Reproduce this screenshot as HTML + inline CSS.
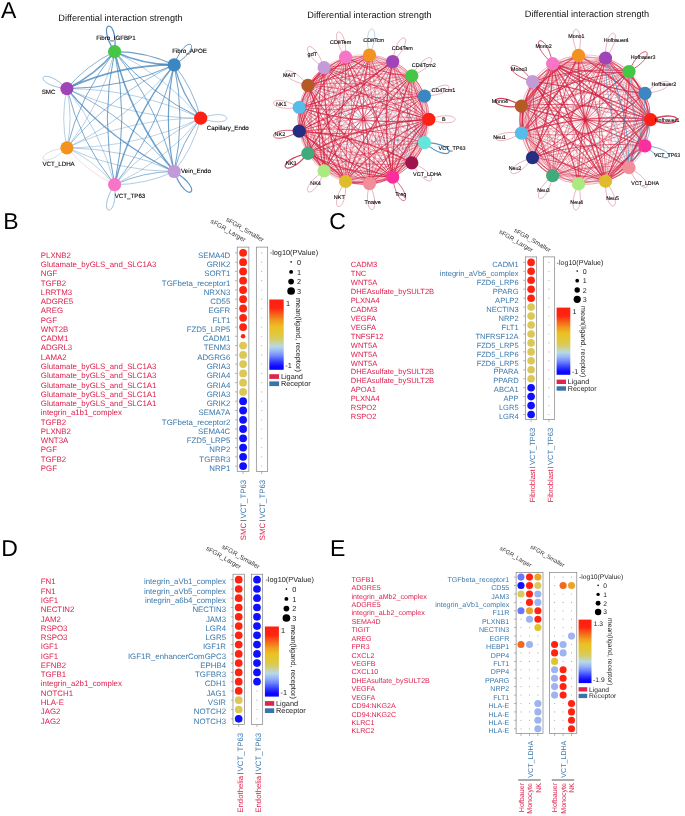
<!DOCTYPE html>
<html lang="en"><head><meta charset="utf-8"><title>Figure</title>
<style>html,body{margin:0;padding:0;background:#fff}svg{display:block;text-rendering:geometricPrecision}</style></head><body>
<svg width="685" height="816" viewBox="0 0 685 816">
<defs>
<linearGradient id="cg" x1="0" y1="0" x2="0" y2="1"><stop offset="0" stop-color="#ff2010"/><stop offset="0.12" stop-color="#ff2410"/><stop offset="0.22" stop-color="#f5681a"/><stop offset="0.3" stop-color="#f09a1e"/><stop offset="0.385" stop-color="#ecc022"/><stop offset="0.5" stop-color="#e0c840"/><stop offset="0.57" stop-color="#d6cc6c"/><stop offset="0.665" stop-color="#b8dae6"/><stop offset="0.735" stop-color="#98b6f6"/><stop offset="0.8" stop-color="#7088fc"/><stop offset="0.89" stop-color="#3038ff"/><stop offset="0.95" stop-color="#1008ff"/><stop offset="1" stop-color="#0a05ff"/></linearGradient>
</defs>
<rect width="685" height="816" fill="#fff"/>
<g font-family='"Liberation Sans", Arial, sans-serif' font-size="23" fill="#000">
<text x="1.0" y="17.8">A</text>
<text x="3.3" y="228.9">B</text>
<text x="329.3" y="229.0">C</text>
<text x="1.3" y="555.7">D</text>
<text x="330.0" y="555.7">E</text>
</g>
<g fill="none" stroke-linecap="round">
<path d="M66.9 147.8Q86.7 171.5 114.6 184.7" stroke="#d2203f" stroke-opacity="0.75" stroke-width="0.22"/>
<path d="M200.7 118.2Q130.5 118.3 66.9 147.8" stroke="#3f82ba" stroke-opacity="0.75" stroke-width="0.45"/>
<path d="M66.9 147.8Q137.0 147.7 200.7 118.2" stroke="#3f82ba" stroke-opacity="0.75" stroke-width="0.45"/>
<path d="M114.6 184.7Q94.8 161.0 66.9 147.8" stroke="#3f82ba" stroke-opacity="0.75" stroke-width="0.45"/>
<path d="M200.7 118.2Q165.0 75.5 114.6 51.7" stroke="#3f82ba" stroke-opacity="0.75" stroke-width="0.50"/>
<path d="M200.7 118.2Q137.0 88.7 66.9 88.6" stroke="#3f82ba" stroke-opacity="0.75" stroke-width="0.50"/>
<path d="M66.9 88.6Q60.4 118.2 66.9 147.8" stroke="#3f82ba" stroke-opacity="0.75" stroke-width="0.50"/>
<path d="M66.9 147.8Q129.7 118.1 174.2 64.9" stroke="#3f82ba" stroke-opacity="0.75" stroke-width="0.50"/>
<path d="M66.9 147.8Q101.3 105.0 114.6 51.7" stroke="#3f82ba" stroke-opacity="0.75" stroke-width="0.50"/>
<path d="M66.9 147.8Q73.4 118.2 66.9 88.6" stroke="#3f82ba" stroke-opacity="0.75" stroke-width="0.50"/>
<path d="M66.9 147.8Q117.9 171.5 174.2 171.5" stroke="#3f82ba" stroke-opacity="0.75" stroke-width="0.50"/>
<path d="M114.6 184.7Q165.0 160.9 200.7 118.2" stroke="#3f82ba" stroke-opacity="0.75" stroke-width="0.50"/>
<path d="M114.6 184.7Q101.3 131.4 66.9 88.6" stroke="#3f82ba" stroke-opacity="0.75" stroke-width="0.50"/>
<path d="M200.7 118.2Q150.4 142.0 114.6 184.7" stroke="#3f82ba" stroke-opacity="0.75" stroke-width="0.55"/>
<path d="M66.9 88.6Q130.5 118.1 200.7 118.2" stroke="#3f82ba" stroke-opacity="0.75" stroke-width="0.55"/>
<path d="M114.6 184.7Q145.9 184.7 174.2 171.5" stroke="#3f82ba" stroke-opacity="0.75" stroke-width="0.55"/>
<path d="M174.2 171.5Q193.3 147.8 200.7 118.2" stroke="#3f82ba" stroke-opacity="0.75" stroke-width="0.55"/>
<path d="M174.2 171.5Q123.1 147.9 66.9 147.8" stroke="#3f82ba" stroke-opacity="0.75" stroke-width="0.55"/>
<path d="M174.2 64.9Q111.4 94.5 66.9 147.8" stroke="#3f82ba" stroke-opacity="0.75" stroke-width="0.70"/>
<path d="M200.7 118.2Q193.3 88.6 174.2 64.9" stroke="#3f82ba" stroke-opacity="0.75" stroke-width="0.80"/>
<path d="M114.6 51.7Q86.7 64.9 66.9 88.6" stroke="#3f82ba" stroke-opacity="0.75" stroke-width="0.80"/>
<path d="M174.2 171.5Q129.7 118.3 66.9 88.6" stroke="#3f82ba" stroke-opacity="0.75" stroke-width="0.80"/>
<path d="M174.2 171.5Q143.0 171.6 114.6 184.7" stroke="#3f82ba" stroke-opacity="0.75" stroke-width="0.80"/>
<path d="M200.7 118.2Q181.6 141.9 174.2 171.5" stroke="#3f82ba" stroke-opacity="0.75" stroke-width="0.90"/>
<path d="M114.6 51.7Q80.2 94.5 66.9 147.8" stroke="#3f82ba" stroke-opacity="0.75" stroke-width="0.90"/>
<path d="M66.9 88.6Q80.2 141.9 114.6 184.7" stroke="#3f82ba" stroke-opacity="0.75" stroke-width="0.90"/>
<path d="M114.6 184.7Q157.6 131.3 174.2 64.9" stroke="#3f82ba" stroke-opacity="0.75" stroke-width="0.90"/>
<path d="M174.2 171.5Q157.6 105.1 114.6 51.7" stroke="#3f82ba" stroke-opacity="0.75" stroke-width="0.90"/>
<path d="M114.6 51.7Q150.4 94.4 200.7 118.2" stroke="#3f82ba" stroke-opacity="0.75" stroke-width="1.00"/>
<path d="M114.6 51.7Q100.0 118.2 114.6 184.7" stroke="#3f82ba" stroke-opacity="0.75" stroke-width="1.00"/>
<path d="M66.9 88.6Q123.1 88.5 174.2 64.9" stroke="#3f82ba" stroke-opacity="0.75" stroke-width="1.00"/>
<path d="M114.6 184.7Q129.3 118.2 114.6 51.7" stroke="#3f82ba" stroke-opacity="0.75" stroke-width="1.00"/>
<path d="M174.2 171.5Q185.9 118.2 174.2 64.9" stroke="#3f82ba" stroke-opacity="0.75" stroke-width="1.00"/>
<path d="M174.2 64.9Q162.5 118.2 174.2 171.5" stroke="#3f82ba" stroke-opacity="0.75" stroke-width="1.20"/>
<path d="M174.2 64.9Q181.6 94.5 200.7 118.2" stroke="#3f82ba" stroke-opacity="0.75" stroke-width="1.30"/>
<path d="M174.2 64.9Q145.9 51.7 114.6 51.7" stroke="#3f82ba" stroke-opacity="0.75" stroke-width="1.30"/>
<path d="M66.9 88.6Q111.4 141.9 174.2 171.5" stroke="#3f82ba" stroke-opacity="0.75" stroke-width="1.40"/>
<path d="M174.2 64.9Q131.2 118.2 114.6 184.7" stroke="#3f82ba" stroke-opacity="0.75" stroke-width="1.50"/>
<path d="M114.6 51.7Q131.2 118.2 174.2 171.5" stroke="#3f82ba" stroke-opacity="0.75" stroke-width="1.50"/>
<path d="M66.9 88.6Q94.8 75.4 114.6 51.7" stroke="#3f82ba" stroke-opacity="0.75" stroke-width="1.50"/>
<path d="M114.6 51.7Q143.0 64.8 174.2 64.9" stroke="#3f82ba" stroke-opacity="0.75" stroke-width="1.60"/>
<path d="M174.2 64.9Q117.9 64.9 66.9 88.6" stroke="#3f82ba" stroke-opacity="0.75" stroke-width="1.80"/>
<path d="M200.7 118.2C235.7 130.7 235.7 105.7 200.7 118.2" stroke="#3f82ba" stroke-opacity="0.85" stroke-width="0.50"/>
<path d="M174.2 64.9C206.1 45.8 186.8 29.9 174.2 64.9" stroke="#3f82ba" stroke-opacity="0.85" stroke-width="1.00"/>
<path d="M114.6 51.7C118.8 14.8 94.4 20.5 114.6 51.7" stroke="#3f82ba" stroke-opacity="0.85" stroke-width="1.30"/>
<path d="M66.9 88.6C40.4 62.5 29.9 85.1 66.9 88.6" stroke="#3f82ba" stroke-opacity="0.85" stroke-width="0.60"/>
<path d="M66.9 147.8C29.9 151.3 40.4 173.9 66.9 147.8" stroke="#3f82ba" stroke-opacity="0.85" stroke-width="0.30"/>
<path d="M114.6 184.7C94.4 215.9 118.8 221.6 114.6 184.7" stroke="#3f82ba" stroke-opacity="0.85" stroke-width="0.60"/>
<path d="M174.2 171.5C186.8 206.5 206.1 190.6 174.2 171.5" stroke="#3f82ba" stroke-opacity="0.85" stroke-width="1.20"/>
</g>
<circle cx="200.7" cy="118.2" r="6.6" fill="#ff2014"/>
<circle cx="174.2" cy="64.9" r="6.6" fill="#3c86c2"/>
<circle cx="114.6" cy="51.7" r="6.6" fill="#45c645"/>
<circle cx="66.9" cy="88.6" r="6.6" fill="#a045b8"/>
<circle cx="66.9" cy="147.8" r="6.6" fill="#f2931f"/>
<circle cx="114.6" cy="184.7" r="6.6" fill="#f874c6"/>
<circle cx="174.2" cy="171.5" r="6.6" fill="#c39bd8"/>
<g font-family='"Liberation Sans", Arial, sans-serif' font-size="6.2" fill="#000" stroke="#000" stroke-width="0.1" text-anchor="middle">
<text x="115.9" y="39.8">Fibro_IGFBP1</text>
<text x="189.5" y="53.2">Fibro_APOE</text>
<text x="227.8" y="129.9">Capillary_Endo</text>
<text x="196.0" y="172.5">Vein_Endo</text>
<text x="130.0" y="198.0">VCT_TP63</text>
<text x="58.6" y="166.4">VCT_LDHA</text>
<text x="48.6" y="93.8">SMC</text>
</g>
<text x="120.5" y="21.3" font-family='"Liberation Sans", Arial, sans-serif' font-size="9.2" fill="#111" text-anchor="middle">Differential interaction strength</text>
<g fill="none" stroke-linecap="round">
<path d="M324.1 67.7Q366.0 116.2 424.5 142.6" stroke="#d2203f" stroke-opacity="0.75" stroke-width="0.24"/>
<path d="M411.8 75.8Q368.8 62.1 324.1 67.7" stroke="#d2203f" stroke-opacity="0.75" stroke-width="0.24"/>
<path d="M324.1 170.9Q382.5 144.5 424.5 96.0" stroke="#d2203f" stroke-opacity="0.75" stroke-width="0.24"/>
<path d="M345.6 57.2Q343.7 123.0 369.5 183.6" stroke="#d2203f" stroke-opacity="0.75" stroke-width="0.24"/>
<path d="M369.5 55.0Q357.3 53.4 345.6 57.2" stroke="#d2203f" stroke-opacity="0.75" stroke-width="0.24"/>
<path d="M369.5 183.6Q348.2 172.2 324.1 170.9" stroke="#d2203f" stroke-opacity="0.75" stroke-width="0.24"/>
<path d="M411.8 75.8Q415.9 87.3 424.5 96.0" stroke="#d2203f" stroke-opacity="0.75" stroke-width="0.25"/>
<path d="M392.7 61.5Q346.3 108.6 324.1 170.9" stroke="#d2203f" stroke-opacity="0.75" stroke-width="0.25"/>
<path d="M411.8 162.8Q421.4 119.3 411.8 75.8" stroke="#d2203f" stroke-opacity="0.75" stroke-width="0.25"/>
<path d="M369.5 183.6Q406.7 145.8 424.5 96.0" stroke="#d2203f" stroke-opacity="0.75" stroke-width="0.25"/>
<path d="M411.8 162.8Q402.5 104.2 369.5 55.0" stroke="#d2203f" stroke-opacity="0.75" stroke-width="0.25"/>
<path d="M428.9 119.3Q417.1 86.4 392.7 61.5" stroke="#d2203f" stroke-opacity="0.75" stroke-width="0.25"/>
<path d="M411.8 162.8Q367.1 157.2 324.1 170.9" stroke="#d2203f" stroke-opacity="0.75" stroke-width="0.25"/>
<path d="M369.5 183.6Q394.5 125.1 392.7 61.5" stroke="#d2203f" stroke-opacity="0.75" stroke-width="0.26"/>
<path d="M369.5 183.6Q393.0 177.9 411.8 162.8" stroke="#d2203f" stroke-opacity="0.75" stroke-width="0.26"/>
<path d="M345.6 57.2Q333.7 60.1 324.1 67.7" stroke="#d2203f" stroke-opacity="0.75" stroke-width="0.26"/>
<path d="M324.1 67.7Q336.0 64.8 345.6 57.2" stroke="#d2203f" stroke-opacity="0.75" stroke-width="0.26"/>
<path d="M428.9 119.3Q370.8 133.5 324.1 170.9" stroke="#d2203f" stroke-opacity="0.75" stroke-width="0.26"/>
<path d="M369.5 55.0Q380.4 60.8 392.7 61.5" stroke="#d2203f" stroke-opacity="0.75" stroke-width="0.27"/>
<path d="M392.7 61.5Q357.7 57.1 324.1 67.7" stroke="#d2203f" stroke-opacity="0.75" stroke-width="0.27"/>
<path d="M369.5 183.6Q402.5 134.4 411.8 75.8" stroke="#d2203f" stroke-opacity="0.75" stroke-width="0.28"/>
<path d="M411.8 75.8Q380.8 59.2 345.6 57.2" stroke="#d2203f" stroke-opacity="0.75" stroke-width="0.28"/>
<path d="M392.7 61.5Q391.1 114.3 411.8 162.8" stroke="#d2203f" stroke-opacity="0.75" stroke-width="0.29"/>
<path d="M424.5 96.0Q410.8 128.0 411.8 162.8" stroke="#d2203f" stroke-opacity="0.75" stroke-width="0.29"/>
<path d="M299.2 107.4Q327.9 87.4 345.6 57.2" stroke="#d2203f" stroke-opacity="0.75" stroke-width="0.29"/>
<path d="M307.9 85.3Q364.7 115.6 428.9 119.3" stroke="#d2203f" stroke-opacity="0.75" stroke-width="0.30"/>
<path d="M345.6 181.4Q394.4 147.4 424.5 96.0" stroke="#d2203f" stroke-opacity="0.75" stroke-width="0.30"/>
<path d="M392.7 61.5Q340.9 74.2 299.2 107.4" stroke="#d2203f" stroke-opacity="0.75" stroke-width="0.30"/>
<path d="M369.5 55.0Q392.1 93.7 428.9 119.3" stroke="#d2203f" stroke-opacity="0.75" stroke-width="0.30"/>
<path d="M307.9 85.3Q306.6 129.9 324.1 170.9" stroke="#d2203f" stroke-opacity="0.75" stroke-width="0.30"/>
<path d="M392.7 61.5Q400.7 70.7 411.8 75.8" stroke="#d2203f" stroke-opacity="0.75" stroke-width="0.30"/>
<path d="M345.6 181.4Q380.8 179.4 411.8 162.8" stroke="#d2203f" stroke-opacity="0.75" stroke-width="0.31"/>
<path d="M424.5 96.0Q389.3 67.9 345.6 57.2" stroke="#d2203f" stroke-opacity="0.75" stroke-width="0.31"/>
<path d="M345.6 57.2Q375.6 108.6 424.5 142.6" stroke="#d2203f" stroke-opacity="0.75" stroke-width="0.31"/>
<path d="M324.1 170.9Q378.4 133.0 411.8 75.8" stroke="#d2203f" stroke-opacity="0.75" stroke-width="0.31"/>
<path d="M307.9 153.3Q372.1 149.6 428.9 119.3" stroke="#d2203f" stroke-opacity="0.75" stroke-width="0.32"/>
<path d="M424.5 96.0Q366.0 122.4 324.1 170.9" stroke="#d2203f" stroke-opacity="0.75" stroke-width="0.32"/>
<path d="M345.6 57.2Q380.4 97.4 428.9 119.3" stroke="#d2203f" stroke-opacity="0.75" stroke-width="0.32"/>
<path d="M369.5 183.6Q349.5 127.7 307.9 85.3" stroke="#d2203f" stroke-opacity="0.75" stroke-width="0.32"/>
<path d="M299.2 131.2Q352.0 159.4 411.8 162.8" stroke="#d2203f" stroke-opacity="0.75" stroke-width="0.33"/>
<path d="M299.2 107.4Q340.1 88.9 369.5 55.0" stroke="#d2203f" stroke-opacity="0.75" stroke-width="0.33"/>
<path d="M369.5 183.6Q342.8 137.8 299.2 107.4" stroke="#d2203f" stroke-opacity="0.75" stroke-width="0.33"/>
<path d="M392.7 61.5Q369.6 54.1 345.6 57.2" stroke="#d2203f" stroke-opacity="0.75" stroke-width="0.33"/>
<path d="M392.7 61.5Q367.7 120.0 369.5 183.6" stroke="#d2203f" stroke-opacity="0.75" stroke-width="0.34"/>
<path d="M424.5 142.6Q429.3 131.5 428.9 119.3" stroke="#d2203f" stroke-opacity="0.75" stroke-width="0.34"/>
<path d="M369.5 55.0Q392.5 81.5 424.5 96.0" stroke="#d2203f" stroke-opacity="0.75" stroke-width="0.34"/>
<path d="M307.9 85.3Q352.9 82.7 392.7 61.5" stroke="#d2203f" stroke-opacity="0.75" stroke-width="0.34"/>
<path d="M369.5 183.6Q359.6 120.7 324.1 67.7" stroke="#d2203f" stroke-opacity="0.75" stroke-width="0.34"/>
<path d="M345.6 181.4Q330.5 139.3 299.2 107.4" stroke="#d2203f" stroke-opacity="0.75" stroke-width="0.34"/>
<path d="M424.5 96.0Q424.1 108.1 428.9 119.3" stroke="#d2203f" stroke-opacity="0.75" stroke-width="0.34"/>
<path d="M307.9 85.3Q359.9 126.8 424.5 142.6" stroke="#d2203f" stroke-opacity="0.75" stroke-width="0.34"/>
<path d="M411.8 162.8Q425.5 130.8 424.5 96.0" stroke="#d2203f" stroke-opacity="0.75" stroke-width="0.35"/>
<path d="M345.6 57.2Q380.8 85.2 424.5 96.0" stroke="#d2203f" stroke-opacity="0.75" stroke-width="0.35"/>
<path d="M324.1 170.9Q382.2 156.6 428.9 119.3" stroke="#d2203f" stroke-opacity="0.75" stroke-width="0.35"/>
<path d="M369.5 183.6Q357.8 179.9 345.6 181.4" stroke="#d2203f" stroke-opacity="0.75" stroke-width="0.35"/>
<path d="M324.1 170.9Q368.8 176.5 411.8 162.8" stroke="#d2203f" stroke-opacity="0.75" stroke-width="0.35"/>
<path d="M424.5 96.0Q412.4 75.2 392.7 61.5" stroke="#d2203f" stroke-opacity="0.75" stroke-width="0.35"/>
<path d="M411.8 162.8Q413.4 110.0 392.7 61.5" stroke="#3f82ba" stroke-opacity="0.75" stroke-width="0.35"/>
<path d="M424.5 142.6Q380.8 153.4 345.6 181.4" stroke="#3f82ba" stroke-opacity="0.75" stroke-width="0.35"/>
<path d="M392.7 61.5Q338.3 86.0 299.2 131.2" stroke="#d2203f" stroke-opacity="0.75" stroke-width="0.35"/>
<path d="M324.1 170.9Q377.4 167.8 424.5 142.6" stroke="#d2203f" stroke-opacity="0.75" stroke-width="0.35"/>
<path d="M345.6 57.2Q368.7 64.5 392.7 61.5" stroke="#d2203f" stroke-opacity="0.75" stroke-width="0.35"/>
<path d="M369.5 55.0Q378.8 113.6 411.8 162.8" stroke="#d2203f" stroke-opacity="0.75" stroke-width="0.36"/>
<path d="M299.2 107.4Q316.0 90.3 324.1 67.7" stroke="#d2203f" stroke-opacity="0.75" stroke-width="0.36"/>
<path d="M345.6 181.4Q347.4 122.2 324.1 67.7" stroke="#d2203f" stroke-opacity="0.75" stroke-width="0.36"/>
<path d="M324.1 170.9Q370.4 123.7 392.7 61.5" stroke="#d2203f" stroke-opacity="0.75" stroke-width="0.36"/>
<path d="M307.9 85.3Q360.9 92.0 411.8 75.8" stroke="#d2203f" stroke-opacity="0.75" stroke-width="0.36"/>
<path d="M424.5 96.0Q377.4 70.8 324.1 67.7" stroke="#d2203f" stroke-opacity="0.75" stroke-width="0.36"/>
<path d="M324.1 67.7Q357.5 124.9 411.8 162.8" stroke="#d2203f" stroke-opacity="0.75" stroke-width="0.36"/>
<path d="M424.5 96.0Q419.3 119.3 424.5 142.6" stroke="#d2203f" stroke-opacity="0.75" stroke-width="0.36"/>
<path d="M345.6 181.4Q337.3 129.2 307.9 85.3" stroke="#d2203f" stroke-opacity="0.75" stroke-width="0.36"/>
<path d="M369.5 55.0Q328.6 73.5 299.2 107.4" stroke="#d2203f" stroke-opacity="0.75" stroke-width="0.36"/>
<path d="M411.8 162.8Q360.9 146.6 307.9 153.3" stroke="#d2203f" stroke-opacity="0.75" stroke-width="0.37"/>
<path d="M324.1 67.7Q367.1 81.4 411.8 75.8" stroke="#d2203f" stroke-opacity="0.75" stroke-width="0.37"/>
<path d="M428.9 119.3Q424.1 130.5 424.5 142.6" stroke="#d2203f" stroke-opacity="0.75" stroke-width="0.37"/>
<path d="M369.5 183.6Q401.5 169.2 424.5 142.6" stroke="#d2203f" stroke-opacity="0.75" stroke-width="0.37"/>
<path d="M428.9 119.3Q425.2 95.7 411.8 75.8" stroke="#d2203f" stroke-opacity="0.75" stroke-width="0.37"/>
<path d="M299.2 107.4Q314.3 149.5 345.6 181.4" stroke="#d2203f" stroke-opacity="0.75" stroke-width="0.37"/>
<path d="M392.7 177.1Q380.4 177.8 369.5 183.6" stroke="#d2203f" stroke-opacity="0.75" stroke-width="0.38"/>
<path d="M324.1 170.9Q333.7 178.5 345.6 181.4" stroke="#d2203f" stroke-opacity="0.75" stroke-width="0.38"/>
<path d="M307.9 153.3Q349.5 110.9 369.5 55.0" stroke="#d2203f" stroke-opacity="0.75" stroke-width="0.39"/>
<path d="M307.9 153.3Q323.7 171.5 345.6 181.4" stroke="#d2203f" stroke-opacity="0.75" stroke-width="0.39"/>
<path d="M369.5 55.0Q334.1 107.9 324.1 170.9" stroke="#d2203f" stroke-opacity="0.75" stroke-width="0.39"/>
<path d="M424.5 96.0Q360.6 87.9 299.2 107.4" stroke="#d2203f" stroke-opacity="0.75" stroke-width="0.39"/>
<path d="M345.6 181.4Q371.5 120.8 369.5 55.0" stroke="#d2203f" stroke-opacity="0.75" stroke-width="0.39"/>
<path d="M299.2 107.4Q359.0 104.0 411.8 75.8" stroke="#d2203f" stroke-opacity="0.75" stroke-width="0.40"/>
<path d="M411.8 162.8Q425.2 142.9 428.9 119.3" stroke="#d2203f" stroke-opacity="0.75" stroke-width="0.40"/>
<path d="M411.8 162.8Q390.3 102.7 345.6 57.2" stroke="#3f82ba" stroke-opacity="0.75" stroke-width="0.40"/>
<path d="M411.8 162.8Q368.4 112.6 307.9 85.3" stroke="#3f82ba" stroke-opacity="0.75" stroke-width="0.40"/>
<path d="M411.8 162.8Q361.6 122.7 299.2 107.4" stroke="#3f82ba" stroke-opacity="0.75" stroke-width="0.40"/>
<path d="M424.5 142.6Q406.7 92.8 369.5 55.0" stroke="#3f82ba" stroke-opacity="0.75" stroke-width="0.40"/>
<path d="M424.5 142.6Q394.4 91.2 345.6 57.2" stroke="#3f82ba" stroke-opacity="0.75" stroke-width="0.40"/>
<path d="M424.5 142.6Q382.5 94.1 324.1 67.7" stroke="#3f82ba" stroke-opacity="0.75" stroke-width="0.40"/>
<path d="M424.5 142.6Q365.7 111.3 299.2 107.4" stroke="#3f82ba" stroke-opacity="0.75" stroke-width="0.40"/>
<path d="M424.5 142.6Q365.0 135.1 307.9 153.3" stroke="#3f82ba" stroke-opacity="0.75" stroke-width="0.40"/>
<path d="M345.6 57.2Q355.9 122.3 392.7 177.1" stroke="#d2203f" stroke-opacity="0.75" stroke-width="0.40"/>
<path d="M324.1 67.7Q346.3 130.0 392.7 177.1" stroke="#d2203f" stroke-opacity="0.75" stroke-width="0.40"/>
<path d="M299.2 131.2Q330.5 99.3 345.6 57.2" stroke="#d2203f" stroke-opacity="0.75" stroke-width="0.41"/>
<path d="M345.6 181.4Q390.3 135.9 411.8 75.8" stroke="#d2203f" stroke-opacity="0.75" stroke-width="0.41"/>
<path d="M411.8 162.8Q376.7 164.8 345.6 181.4" stroke="#d2203f" stroke-opacity="0.75" stroke-width="0.41"/>
<path d="M307.9 153.3Q325.4 112.3 324.1 67.7" stroke="#d2203f" stroke-opacity="0.75" stroke-width="0.41"/>
<path d="M307.9 85.3Q300.4 119.3 307.9 153.3" stroke="#d2203f" stroke-opacity="0.75" stroke-width="0.41"/>
<path d="M299.2 131.2Q301.1 143.2 307.9 153.3" stroke="#d2203f" stroke-opacity="0.75" stroke-width="0.42"/>
<path d="M324.1 170.9Q316.0 148.3 299.2 131.2" stroke="#d2203f" stroke-opacity="0.75" stroke-width="0.42"/>
<path d="M299.2 131.2Q360.6 150.7 424.5 142.6" stroke="#d2203f" stroke-opacity="0.75" stroke-width="0.42"/>
<path d="M345.6 181.4Q389.3 170.7 424.5 142.6" stroke="#d2203f" stroke-opacity="0.75" stroke-width="0.43"/>
<path d="M424.5 96.0Q359.9 111.8 307.9 153.3" stroke="#d2203f" stroke-opacity="0.75" stroke-width="0.43"/>
<path d="M345.6 181.4Q336.0 173.8 324.1 170.9" stroke="#d2203f" stroke-opacity="0.75" stroke-width="0.43"/>
<path d="M392.7 177.1Q351.0 143.9 299.2 131.2" stroke="#d2203f" stroke-opacity="0.75" stroke-width="0.43"/>
<path d="M299.2 107.4Q358.0 138.8 424.5 142.6" stroke="#d2203f" stroke-opacity="0.75" stroke-width="0.44"/>
<path d="M369.5 183.6Q340.1 149.7 299.2 131.2" stroke="#d2203f" stroke-opacity="0.75" stroke-width="0.44"/>
<path d="M369.5 55.0Q345.4 56.4 324.1 67.7" stroke="#d2203f" stroke-opacity="0.75" stroke-width="0.44"/>
<path d="M424.5 142.6Q404.8 156.4 392.7 177.1" stroke="#d2203f" stroke-opacity="0.75" stroke-width="0.44"/>
<path d="M324.1 170.9Q335.4 119.3 324.1 67.7" stroke="#d2203f" stroke-opacity="0.75" stroke-width="0.44"/>
<path d="M324.1 170.9Q345.4 182.2 369.5 183.6" stroke="#d2203f" stroke-opacity="0.75" stroke-width="0.44"/>
<path d="M392.7 61.5Q347.7 64.1 307.9 85.3" stroke="#d2203f" stroke-opacity="0.75" stroke-width="0.44"/>
<path d="M392.7 177.1Q352.9 155.9 307.9 153.3" stroke="#d2203f" stroke-opacity="0.75" stroke-width="0.45"/>
<path d="M424.5 96.0Q401.5 69.4 369.5 55.0" stroke="#d2203f" stroke-opacity="0.75" stroke-width="0.45"/>
<path d="M345.6 57.2Q357.8 58.7 369.5 55.0" stroke="#d2203f" stroke-opacity="0.75" stroke-width="0.45"/>
<path d="M299.2 131.2Q318.6 102.2 324.1 67.7" stroke="#d2203f" stroke-opacity="0.75" stroke-width="0.45"/>
<path d="M369.5 183.6Q342.0 161.7 307.9 153.3" stroke="#d2203f" stroke-opacity="0.75" stroke-width="0.45"/>
<path d="M411.8 162.8Q378.4 105.6 324.1 67.7" stroke="#3f82ba" stroke-opacity="0.75" stroke-width="0.45"/>
<path d="M424.5 142.6Q372.5 101.1 307.9 85.3" stroke="#3f82ba" stroke-opacity="0.75" stroke-width="0.45"/>
<path d="M392.7 177.1Q417.5 140.0 424.5 96.0" stroke="#d2203f" stroke-opacity="0.75" stroke-width="0.45"/>
<path d="M307.9 153.3Q367.4 160.8 424.5 142.6" stroke="#d2203f" stroke-opacity="0.75" stroke-width="0.45"/>
<path d="M307.9 153.3Q315.4 119.3 307.9 85.3" stroke="#d2203f" stroke-opacity="0.75" stroke-width="0.46"/>
<path d="M299.2 131.2Q365.7 127.3 424.5 96.0" stroke="#d2203f" stroke-opacity="0.75" stroke-width="0.46"/>
<path d="M424.5 142.6Q417.5 98.6 392.7 61.5" stroke="#d2203f" stroke-opacity="0.75" stroke-width="0.46"/>
<path d="M369.5 183.6Q383.7 119.3 369.5 55.0" stroke="#d2203f" stroke-opacity="0.75" stroke-width="0.47"/>
<path d="M307.9 153.3Q335.4 175.2 369.5 183.6" stroke="#d2203f" stroke-opacity="0.75" stroke-width="0.47"/>
<path d="M411.8 75.8Q351.3 103.1 307.9 153.3" stroke="#d2203f" stroke-opacity="0.75" stroke-width="0.47"/>
<path d="M307.9 153.3Q314.1 163.9 324.1 170.9" stroke="#d2203f" stroke-opacity="0.75" stroke-width="0.48"/>
<path d="M345.6 57.2Q316.2 101.1 307.9 153.3" stroke="#d2203f" stroke-opacity="0.75" stroke-width="0.48"/>
<path d="M324.1 170.9Q357.7 181.5 392.7 177.1" stroke="#d2203f" stroke-opacity="0.75" stroke-width="0.49"/>
<path d="M324.1 67.7Q334.1 130.7 369.5 183.6" stroke="#d2203f" stroke-opacity="0.75" stroke-width="0.49"/>
<path d="M299.2 107.4Q338.3 152.6 392.7 177.1" stroke="#d2203f" stroke-opacity="0.75" stroke-width="0.49"/>
<path d="M307.9 85.3Q351.3 135.5 411.8 162.8" stroke="#d2203f" stroke-opacity="0.75" stroke-width="0.49"/>
<path d="M307.9 153.3Q368.4 126.0 411.8 75.8" stroke="#d2203f" stroke-opacity="0.75" stroke-width="0.49"/>
<path d="M392.7 61.5Q381.8 55.7 369.5 55.0" stroke="#d2203f" stroke-opacity="0.75" stroke-width="0.50"/>
<path d="M428.9 119.3Q406.3 80.6 369.5 55.0" stroke="#d2203f" stroke-opacity="0.75" stroke-width="0.50"/>
<path d="M411.8 75.8Q393.0 60.7 369.5 55.0" stroke="#d2203f" stroke-opacity="0.75" stroke-width="0.50"/>
<path d="M324.1 67.7Q306.6 108.7 307.9 153.3" stroke="#d2203f" stroke-opacity="0.75" stroke-width="0.50"/>
<path d="M411.8 75.8Q410.8 110.6 424.5 142.6" stroke="#d2203f" stroke-opacity="0.75" stroke-width="0.50"/>
<path d="M392.7 177.1Q394.5 113.5 369.5 55.0" stroke="#d2203f" stroke-opacity="0.75" stroke-width="0.50"/>
<path d="M424.5 142.6Q415.9 151.3 411.8 162.8" stroke="#d2203f" stroke-opacity="0.75" stroke-width="0.51"/>
<path d="M411.8 162.8Q400.7 167.9 392.7 177.1" stroke="#d2203f" stroke-opacity="0.75" stroke-width="0.51"/>
<path d="M345.6 57.2Q322.3 111.6 324.1 170.9" stroke="#d2203f" stroke-opacity="0.75" stroke-width="0.51"/>
<path d="M392.7 177.1Q405.4 119.3 392.7 61.5" stroke="#d2203f" stroke-opacity="0.75" stroke-width="0.51"/>
<path d="M307.9 85.3Q301.1 95.4 299.2 107.4" stroke="#d2203f" stroke-opacity="0.75" stroke-width="0.51"/>
<path d="M307.9 85.3Q316.2 137.5 345.6 181.4" stroke="#d2203f" stroke-opacity="0.75" stroke-width="0.52"/>
<path d="M369.5 55.0Q326.0 85.3 299.2 131.2" stroke="#d2203f" stroke-opacity="0.75" stroke-width="0.52"/>
<path d="M299.2 131.2Q307.3 153.7 324.1 170.9" stroke="#d2203f" stroke-opacity="0.75" stroke-width="0.53"/>
<path d="M428.9 119.3Q362.8 111.0 299.2 131.2" stroke="#d2203f" stroke-opacity="0.75" stroke-width="0.53"/>
<path d="M411.8 75.8Q349.4 91.1 299.2 131.2" stroke="#d2203f" stroke-opacity="0.75" stroke-width="0.53"/>
<path d="M345.6 181.4Q394.1 159.5 428.9 119.3" stroke="#d2203f" stroke-opacity="0.75" stroke-width="0.53"/>
<path d="M299.2 107.4Q349.4 147.5 411.8 162.8" stroke="#d2203f" stroke-opacity="0.75" stroke-width="0.53"/>
<path d="M369.5 55.0Q388.4 70.0 411.8 75.8" stroke="#d2203f" stroke-opacity="0.75" stroke-width="0.53"/>
<path d="M369.5 55.0Q327.9 97.4 307.9 153.3" stroke="#d2203f" stroke-opacity="0.75" stroke-width="0.54"/>
<path d="M345.6 57.2Q331.9 119.3 345.6 181.4" stroke="#d2203f" stroke-opacity="0.75" stroke-width="0.54"/>
<path d="M411.8 75.8Q352.0 79.2 299.2 107.4" stroke="#d2203f" stroke-opacity="0.75" stroke-width="0.54"/>
<path d="M392.7 61.5Q355.9 116.3 345.6 181.4" stroke="#d2203f" stroke-opacity="0.75" stroke-width="0.55"/>
<path d="M424.5 96.0Q387.4 133.7 369.5 183.6" stroke="#d2203f" stroke-opacity="0.75" stroke-width="0.55"/>
<path d="M299.2 131.2Q308.6 109.2 307.9 85.3" stroke="#d2203f" stroke-opacity="0.75" stroke-width="0.56"/>
<path d="M299.2 131.2Q328.6 165.1 369.5 183.6" stroke="#d2203f" stroke-opacity="0.75" stroke-width="0.56"/>
<path d="M424.5 96.0Q399.6 133.0 392.7 177.1" stroke="#d2203f" stroke-opacity="0.75" stroke-width="0.56"/>
<path d="M411.8 75.8Q378.8 125.0 369.5 183.6" stroke="#d2203f" stroke-opacity="0.75" stroke-width="0.57"/>
<path d="M424.5 142.6Q392.5 157.1 369.5 183.6" stroke="#d2203f" stroke-opacity="0.75" stroke-width="0.58"/>
<path d="M428.9 119.3Q415.6 139.2 411.8 162.8" stroke="#d2203f" stroke-opacity="0.75" stroke-width="0.58"/>
<path d="M307.9 85.3Q365.0 103.5 424.5 96.0" stroke="#d2203f" stroke-opacity="0.75" stroke-width="0.59"/>
<path d="M307.9 153.3Q360.4 116.7 392.7 61.5" stroke="#d2203f" stroke-opacity="0.75" stroke-width="0.59"/>
<path d="M299.2 131.2Q361.6 115.9 411.8 75.8" stroke="#d2203f" stroke-opacity="0.75" stroke-width="0.60"/>
<path d="M307.9 153.3Q337.3 109.4 345.6 57.2" stroke="#d2203f" stroke-opacity="0.75" stroke-width="0.60"/>
<path d="M424.5 142.6Q371.2 145.7 324.1 170.9" stroke="#d2203f" stroke-opacity="0.75" stroke-width="0.60"/>
<path d="M345.6 181.4Q359.3 119.3 345.6 57.2" stroke="#d2203f" stroke-opacity="0.75" stroke-width="0.61"/>
<path d="M324.1 170.9Q318.6 136.4 299.2 107.4" stroke="#d2203f" stroke-opacity="0.75" stroke-width="0.61"/>
<path d="M299.2 107.4Q298.5 131.3 307.9 153.3" stroke="#d2203f" stroke-opacity="0.75" stroke-width="0.61"/>
<path d="M411.8 75.8Q402.3 119.3 411.8 162.8" stroke="#d2203f" stroke-opacity="0.75" stroke-width="0.62"/>
<path d="M424.5 142.6Q429.6 119.3 424.5 96.0" stroke="#d2203f" stroke-opacity="0.75" stroke-width="0.62"/>
<path d="M324.1 67.7Q371.2 92.9 424.5 96.0" stroke="#d2203f" stroke-opacity="0.75" stroke-width="0.63"/>
<path d="M424.5 96.0Q375.6 130.0 345.6 181.4" stroke="#d2203f" stroke-opacity="0.75" stroke-width="0.63"/>
<path d="M392.7 177.1Q413.4 128.6 411.8 75.8" stroke="#d2203f" stroke-opacity="0.75" stroke-width="0.64"/>
<path d="M299.2 107.4Q306.0 97.3 307.9 85.3" stroke="#d2203f" stroke-opacity="0.75" stroke-width="0.64"/>
<path d="M324.1 67.7Q359.1 72.2 392.7 61.5" stroke="#d2203f" stroke-opacity="0.75" stroke-width="0.64"/>
<path d="M392.7 61.5Q404.4 94.4 428.9 119.3" stroke="#d2203f" stroke-opacity="0.75" stroke-width="0.65"/>
<path d="M369.5 55.0Q367.7 118.6 392.7 177.1" stroke="#d2203f" stroke-opacity="0.75" stroke-width="0.65"/>
<path d="M424.5 96.0Q367.4 77.8 307.9 85.3" stroke="#d2203f" stroke-opacity="0.75" stroke-width="0.66"/>
<path d="M307.9 153.3Q358.8 169.5 411.8 162.8" stroke="#d2203f" stroke-opacity="0.75" stroke-width="0.67"/>
<path d="M392.7 61.5Q404.8 82.2 424.5 96.0" stroke="#d2203f" stroke-opacity="0.75" stroke-width="0.68"/>
<path d="M307.9 85.3Q298.5 107.3 299.2 131.2" stroke="#d2203f" stroke-opacity="0.75" stroke-width="0.69"/>
<path d="M299.2 131.2Q301.8 119.3 299.2 107.4" stroke="#d2203f" stroke-opacity="0.75" stroke-width="0.69"/>
<path d="M345.6 57.2Q367.1 117.3 411.8 162.8" stroke="#d2203f" stroke-opacity="0.75" stroke-width="0.69"/>
<path d="M392.7 177.1Q359.1 166.4 324.1 170.9" stroke="#d2203f" stroke-opacity="0.75" stroke-width="0.70"/>
<path d="M424.5 142.6Q425.5 107.8 411.8 75.8" stroke="#d2203f" stroke-opacity="0.75" stroke-width="0.70"/>
<path d="M299.2 107.4Q363.1 115.5 424.5 96.0" stroke="#d2203f" stroke-opacity="0.75" stroke-width="0.70"/>
<path d="M345.6 181.4Q382.3 126.6 392.7 61.5" stroke="#d2203f" stroke-opacity="0.75" stroke-width="0.70"/>
<path d="M299.2 131.2Q316.9 161.4 345.6 181.4" stroke="#d2203f" stroke-opacity="0.75" stroke-width="0.73"/>
<path d="M392.7 177.1Q360.4 121.9 307.9 85.3" stroke="#d2203f" stroke-opacity="0.75" stroke-width="0.74"/>
<path d="M299.2 131.2Q342.8 100.8 369.5 55.0" stroke="#d2203f" stroke-opacity="0.75" stroke-width="0.75"/>
<path d="M307.9 153.3Q306.0 141.3 299.2 131.2" stroke="#d2203f" stroke-opacity="0.75" stroke-width="0.76"/>
<path d="M411.8 75.8Q358.8 69.1 307.9 85.3" stroke="#d2203f" stroke-opacity="0.75" stroke-width="0.77"/>
<path d="M345.6 57.2Q316.9 77.2 299.2 107.4" stroke="#d2203f" stroke-opacity="0.75" stroke-width="0.77"/>
<path d="M369.5 55.0Q387.4 104.9 424.5 142.6" stroke="#d2203f" stroke-opacity="0.75" stroke-width="0.78"/>
<path d="M299.2 131.2Q353.6 106.6 392.7 61.5" stroke="#d2203f" stroke-opacity="0.75" stroke-width="0.78"/>
<path d="M424.5 142.6Q363.1 123.1 299.2 131.2" stroke="#d2203f" stroke-opacity="0.75" stroke-width="0.78"/>
<path d="M392.7 177.1Q353.6 132.0 299.2 107.4" stroke="#d2203f" stroke-opacity="0.75" stroke-width="0.79"/>
<path d="M392.7 61.5Q399.6 105.6 424.5 142.6" stroke="#d2203f" stroke-opacity="0.75" stroke-width="0.79"/>
<path d="M307.9 85.3Q329.8 75.4 345.6 57.2" stroke="#d2203f" stroke-opacity="0.75" stroke-width="0.80"/>
<path d="M392.7 177.1Q370.4 114.9 324.1 67.7" stroke="#d2203f" stroke-opacity="0.75" stroke-width="0.80"/>
<path d="M324.1 67.7Q304.7 96.7 299.2 131.2" stroke="#d2203f" stroke-opacity="0.75" stroke-width="0.81"/>
<path d="M428.9 119.3Q365.4 99.1 299.2 107.4" stroke="#d2203f" stroke-opacity="0.75" stroke-width="0.81"/>
<path d="M428.9 119.3Q372.1 89.0 307.9 85.3" stroke="#d2203f" stroke-opacity="0.75" stroke-width="0.82"/>
<path d="M299.2 107.4Q326.0 153.3 369.5 183.6" stroke="#d2203f" stroke-opacity="0.75" stroke-width="0.82"/>
<path d="M324.1 67.7Q348.2 66.4 369.5 55.0" stroke="#d2203f" stroke-opacity="0.75" stroke-width="0.82"/>
<path d="M324.1 67.7Q314.1 74.7 307.9 85.3" stroke="#d2203f" stroke-opacity="0.75" stroke-width="0.82"/>
<path d="M392.7 177.1Q412.4 163.4 424.5 142.6" stroke="#d2203f" stroke-opacity="0.75" stroke-width="0.82"/>
<path d="M369.5 183.6Q406.3 158.0 428.9 119.3" stroke="#d2203f" stroke-opacity="0.75" stroke-width="0.83"/>
<path d="M428.9 119.3Q429.3 107.1 424.5 96.0" stroke="#d2203f" stroke-opacity="0.75" stroke-width="0.83"/>
<path d="M369.5 55.0Q343.7 115.6 345.6 181.4" stroke="#d2203f" stroke-opacity="0.75" stroke-width="0.84"/>
<path d="M299.2 131.2Q365.4 139.5 428.9 119.3" stroke="#d2203f" stroke-opacity="0.75" stroke-width="0.84"/>
<path d="M411.8 75.8Q403.8 66.5 392.7 61.5" stroke="#d2203f" stroke-opacity="0.75" stroke-width="0.85"/>
<path d="M307.9 153.3Q372.5 137.5 424.5 96.0" stroke="#d2203f" stroke-opacity="0.75" stroke-width="0.87"/>
<path d="M428.9 119.3Q394.1 79.1 345.6 57.2" stroke="#d2203f" stroke-opacity="0.75" stroke-width="0.87"/>
<path d="M369.5 55.0Q355.4 119.3 369.5 183.6" stroke="#d2203f" stroke-opacity="0.75" stroke-width="0.87"/>
<path d="M299.2 107.4Q296.6 119.3 299.2 131.2" stroke="#d2203f" stroke-opacity="0.75" stroke-width="0.88"/>
<path d="M411.8 162.8Q388.4 168.6 369.5 183.6" stroke="#d2203f" stroke-opacity="0.75" stroke-width="0.89"/>
<path d="M392.7 177.1Q403.8 172.1 411.8 162.8" stroke="#d2203f" stroke-opacity="0.75" stroke-width="0.90"/>
<path d="M428.9 119.3Q382.2 82.0 324.1 67.7" stroke="#d2203f" stroke-opacity="0.75" stroke-width="0.90"/>
<path d="M392.7 177.1Q368.7 174.1 345.6 181.4" stroke="#d2203f" stroke-opacity="0.75" stroke-width="0.93"/>
<path d="M307.9 153.3Q308.6 129.4 299.2 107.4" stroke="#d2203f" stroke-opacity="0.75" stroke-width="0.94"/>
<path d="M392.7 177.1Q382.3 112.0 345.6 57.2" stroke="#d2203f" stroke-opacity="0.75" stroke-width="0.95"/>
<path d="M411.8 75.8Q357.5 113.7 324.1 170.9" stroke="#d2203f" stroke-opacity="0.75" stroke-width="0.96"/>
<path d="M369.5 183.6Q371.5 117.8 345.6 57.2" stroke="#d2203f" stroke-opacity="0.75" stroke-width="0.97"/>
<path d="M324.1 170.9Q359.6 117.9 369.5 55.0" stroke="#d2203f" stroke-opacity="0.75" stroke-width="0.98"/>
<path d="M411.8 75.8Q415.6 99.4 428.9 119.3" stroke="#d2203f" stroke-opacity="0.75" stroke-width="0.98"/>
<path d="M307.9 85.3Q327.9 141.2 369.5 183.6" stroke="#d2203f" stroke-opacity="0.75" stroke-width="0.99"/>
<path d="M345.6 57.2Q376.7 73.8 411.8 75.8" stroke="#d2203f" stroke-opacity="0.75" stroke-width="1.00"/>
<path d="M324.1 67.7Q370.8 105.1 428.9 119.3" stroke="#d2203f" stroke-opacity="0.75" stroke-width="1.01"/>
<path d="M424.5 96.0Q420.4 84.5 411.8 75.8" stroke="#d2203f" stroke-opacity="0.75" stroke-width="1.03"/>
<path d="M324.1 170.9Q347.4 116.4 345.6 57.2" stroke="#d2203f" stroke-opacity="0.75" stroke-width="1.05"/>
<path d="M324.1 67.7Q312.7 119.3 324.1 170.9" stroke="#d2203f" stroke-opacity="0.75" stroke-width="1.06"/>
<path d="M307.9 85.3Q342.0 76.9 369.5 55.0" stroke="#d2203f" stroke-opacity="0.75" stroke-width="1.08"/>
<path d="M428.9 119.3Q392.1 144.9 369.5 183.6" stroke="#d2203f" stroke-opacity="0.75" stroke-width="1.08"/>
<path d="M307.9 85.3Q340.2 140.5 392.7 177.1" stroke="#d2203f" stroke-opacity="0.75" stroke-width="1.09"/>
<path d="M411.8 162.8Q420.4 154.1 424.5 142.6" stroke="#d2203f" stroke-opacity="0.75" stroke-width="1.09"/>
<path d="M299.2 131.2Q340.9 164.4 392.7 177.1" stroke="#d2203f" stroke-opacity="0.75" stroke-width="1.10"/>
<path d="M345.6 57.2Q314.3 89.1 299.2 131.2" stroke="#d2203f" stroke-opacity="0.75" stroke-width="1.11"/>
<path d="M307.9 85.3Q317.9 78.3 324.1 67.7" stroke="#d2203f" stroke-opacity="0.75" stroke-width="1.11"/>
<path d="M324.1 67.7Q307.3 84.9 299.2 107.4" stroke="#d2203f" stroke-opacity="0.75" stroke-width="1.13"/>
<path d="M392.7 61.5Q340.2 98.1 307.9 153.3" stroke="#d2203f" stroke-opacity="0.75" stroke-width="1.15"/>
<path d="M411.8 75.8Q367.1 121.3 345.6 181.4" stroke="#d2203f" stroke-opacity="0.75" stroke-width="1.17"/>
<path d="M424.5 96.0Q358.0 99.8 299.2 131.2" stroke="#d2203f" stroke-opacity="0.75" stroke-width="1.17"/>
<path d="M345.6 57.2Q323.7 67.1 307.9 85.3" stroke="#d2203f" stroke-opacity="0.75" stroke-width="1.17"/>
<path d="M345.6 181.4Q357.3 185.2 369.5 183.6" stroke="#d2203f" stroke-opacity="0.75" stroke-width="1.18"/>
<path d="M428.9 119.3Q380.4 141.2 345.6 181.4" stroke="#d2203f" stroke-opacity="0.75" stroke-width="1.21"/>
<path d="M299.2 107.4Q362.8 127.6 428.9 119.3" stroke="#d2203f" stroke-opacity="0.75" stroke-width="1.21"/>
<path d="M299.2 107.4Q304.7 141.9 324.1 170.9" stroke="#d2203f" stroke-opacity="0.75" stroke-width="1.21"/>
<path d="M369.5 55.0Q335.4 63.4 307.9 85.3" stroke="#d2203f" stroke-opacity="0.75" stroke-width="1.24"/>
<path d="M299.2 107.4Q351.0 94.7 392.7 61.5" stroke="#d2203f" stroke-opacity="0.75" stroke-width="1.25"/>
<path d="M307.9 153.3Q347.7 174.5 392.7 177.1" stroke="#d2203f" stroke-opacity="0.75" stroke-width="1.25"/>
<path d="M324.1 170.9Q317.9 160.3 307.9 153.3" stroke="#d2203f" stroke-opacity="0.75" stroke-width="1.26"/>
<path d="M369.5 183.6Q381.8 182.9 392.7 177.1" stroke="#d2203f" stroke-opacity="0.75" stroke-width="1.29"/>
<path d="M392.7 177.1Q417.1 152.2 428.9 119.3" stroke="#d2203f" stroke-opacity="0.75" stroke-width="1.30"/>
<path d="M324.1 67.7Q322.3 127.0 345.6 181.4" stroke="#d2203f" stroke-opacity="0.75" stroke-width="1.31"/>
<path d="M345.6 181.4Q327.9 151.2 299.2 131.2" stroke="#d2203f" stroke-opacity="0.75" stroke-width="1.33"/>
<path d="M428.9 119.3Q364.7 123.0 307.9 153.3" stroke="#d2203f" stroke-opacity="0.75" stroke-width="1.36"/>
<path d="M324.1 170.9Q325.4 126.3 307.9 85.3" stroke="#d2203f" stroke-opacity="0.75" stroke-width="1.37"/>
<path d="M411.8 162.8Q359.0 134.6 299.2 131.2" stroke="#d2203f" stroke-opacity="0.75" stroke-width="1.45"/>
<path d="M428.9 119.3Q404.4 144.2 392.7 177.1" stroke="#d2203f" stroke-opacity="0.75" stroke-width="1.50"/>
<path d="M411.8 75.8Q391.1 124.3 392.7 177.1" stroke="#d2203f" stroke-opacity="0.75" stroke-width="1.50"/>
<path d="M392.7 61.5Q379.9 119.3 392.7 177.1" stroke="#d2203f" stroke-opacity="0.75" stroke-width="1.50"/>
<path d="M345.6 181.4Q329.8 163.2 307.9 153.3" stroke="#d2203f" stroke-opacity="0.75" stroke-width="1.50"/>
<path d="M345.6 181.4Q369.6 184.5 392.7 177.1" stroke="#d2203f" stroke-opacity="0.75" stroke-width="1.50"/>
<path d="M428.9 119.3C463.9 131.8 463.9 106.8 428.9 119.3" stroke="#c42544" stroke-opacity="0.85" stroke-width="0.40"/>
<path d="M424.5 96.0C461.6 95.1 452.7 71.8 424.5 96.0" stroke="#c42544" stroke-opacity="0.85" stroke-width="0.40"/>
<path d="M411.8 75.8C446.2 61.6 429.5 43.1 411.8 75.8" stroke="#c42544" stroke-opacity="0.85" stroke-width="0.40"/>
<path d="M392.7 61.5C419.6 35.8 397.2 24.6 392.7 61.5" stroke="#c42544" stroke-opacity="0.85" stroke-width="0.40"/>
<path d="M369.5 55.0C385.2 21.3 360.4 19.0 369.5 55.0" stroke="#3f82ba" stroke-opacity="0.85" stroke-width="0.40"/>
<path d="M345.6 57.2C347.9 20.1 323.9 27.0 345.6 57.2" stroke="#c42544" stroke-opacity="0.85" stroke-width="0.40"/>
<path d="M324.1 67.7C312.8 32.4 292.9 47.5 324.1 67.7" stroke="#c42544" stroke-opacity="0.85" stroke-width="0.40"/>
<path d="M307.9 85.3C284.6 56.4 271.5 77.7 307.9 85.3" stroke="#c42544" stroke-opacity="0.85" stroke-width="0.40"/>
<path d="M299.2 107.4C267.1 88.8 262.5 113.4 299.2 107.4" stroke="#c42544" stroke-opacity="0.85" stroke-width="0.40"/>
<path d="M299.2 131.2C262.5 125.2 267.1 149.8 299.2 131.2" stroke="#c42544" stroke-opacity="0.85" stroke-width="0.90"/>
<path d="M307.9 153.3C271.5 160.9 284.6 182.2 307.9 153.3" stroke="#c42544" stroke-opacity="0.85" stroke-width="1.20"/>
<path d="M324.1 170.9C292.9 191.1 312.8 206.2 324.1 170.9" stroke="#c42544" stroke-opacity="0.85" stroke-width="0.40"/>
<path d="M345.6 181.4C323.9 211.6 347.9 218.5 345.6 181.4" stroke="#c42544" stroke-opacity="0.85" stroke-width="0.40"/>
<path d="M369.5 183.6C360.4 219.6 385.2 217.3 369.5 183.6" stroke="#c42544" stroke-opacity="0.85" stroke-width="0.40"/>
<path d="M392.7 177.1C397.2 214.0 419.6 202.8 392.7 177.1" stroke="#c42544" stroke-opacity="0.85" stroke-width="0.80"/>
<path d="M411.8 162.8C429.5 195.5 446.2 177.0 411.8 162.8" stroke="#c42544" stroke-opacity="0.85" stroke-width="0.40"/>
<path d="M424.5 142.6C452.7 166.8 461.6 143.5 424.5 142.6" stroke="#3f82ba" stroke-opacity="0.85" stroke-width="1.20"/>
</g>
<circle cx="428.9" cy="119.3" r="6.6" fill="#ff2014"/>
<circle cx="424.5" cy="96.0" r="6.6" fill="#3c86c2"/>
<circle cx="411.8" cy="75.8" r="6.6" fill="#45c645"/>
<circle cx="392.7" cy="61.5" r="6.6" fill="#a045b8"/>
<circle cx="369.5" cy="55.0" r="6.6" fill="#f2931f"/>
<circle cx="345.6" cy="57.2" r="6.6" fill="#f874c6"/>
<circle cx="324.1" cy="67.7" r="6.6" fill="#c39bd8"/>
<circle cx="307.9" cy="85.3" r="6.6" fill="#b55a26"/>
<circle cx="299.2" cy="107.4" r="6.6" fill="#56bce8"/>
<circle cx="299.2" cy="131.2" r="6.6" fill="#252e80"/>
<circle cx="307.9" cy="153.3" r="6.6" fill="#40aa7c"/>
<circle cx="324.1" cy="170.9" r="6.6" fill="#aaea80"/>
<circle cx="345.6" cy="181.4" r="6.6" fill="#dfbc2c"/>
<circle cx="369.5" cy="183.6" r="6.6" fill="#f28e9a"/>
<circle cx="392.7" cy="177.1" r="6.6" fill="#fc2e9e"/>
<circle cx="411.8" cy="162.8" r="6.6" fill="#9e144c"/>
<circle cx="424.5" cy="142.6" r="6.6" fill="#66e6da"/>
<g font-family='"Liberation Sans", Arial, sans-serif' font-size="5.45" fill="#000" stroke="#000" stroke-width="0.1" text-anchor="middle">
<text x="373.7" y="41.9">CD8Tcm</text>
<text x="340.6" y="44.1">CD8Tem</text>
<text x="402.3" y="49.6">CD4Tem</text>
<text x="312.3" y="56.3">gdT</text>
<text x="423.8" y="66.6">CD4Tcm2</text>
<text x="289.5" y="77.2">MAIT</text>
<text x="443.4" y="91.6">CD4Tcm1</text>
<text x="281.2" y="106.1">NK1</text>
<text x="443.7" y="121.2">B</text>
<text x="279.9" y="136.0">NK2</text>
<text x="452.0" y="150.4">VCT_TP63</text>
<text x="291.1" y="164.9">NK3</text>
<text x="427.3" y="176.1">VCT_LDHA</text>
<text x="315.6" y="184.8">NK4</text>
<text x="400.7" y="196.0">Treg</text>
<text x="339.3" y="198.9">NKT</text>
<text x="372.7" y="204.0">Tnaive</text>
</g>
<text x="369.5" y="18.3" font-family='"Liberation Sans", Arial, sans-serif' font-size="9.2" fill="#111" text-anchor="middle">Differential interaction strength</text>
<g fill="none" stroke-linecap="round">
<path d="M578.5 55.3Q564.3 119.6 578.5 183.9" stroke="#d2203f" stroke-opacity="0.75" stroke-width="0.26"/>
<path d="M645.0 145.9Q607.5 157.6 578.5 183.9" stroke="#d2203f" stroke-opacity="0.75" stroke-width="0.26"/>
<path d="M629.0 71.5Q605.5 57.8 578.5 55.3" stroke="#d2203f" stroke-opacity="0.75" stroke-width="0.26"/>
<path d="M578.5 55.3Q591.4 117.0 629.0 167.7" stroke="#d2203f" stroke-opacity="0.75" stroke-width="0.27"/>
<path d="M645.0 93.3Q601.7 131.3 578.5 183.9" stroke="#d2203f" stroke-opacity="0.75" stroke-width="0.27"/>
<path d="M645.0 93.3Q639.2 119.6 645.0 145.9" stroke="#d2203f" stroke-opacity="0.75" stroke-width="0.28"/>
<path d="M629.0 167.7Q581.8 152.0 532.5 157.6" stroke="#d2203f" stroke-opacity="0.75" stroke-width="0.28"/>
<path d="M645.0 93.3Q639.4 80.6 629.0 71.5" stroke="#d2203f" stroke-opacity="0.75" stroke-width="0.28"/>
<path d="M645.0 93.3Q628.8 128.7 629.0 167.7" stroke="#d2203f" stroke-opacity="0.75" stroke-width="0.29"/>
<path d="M532.5 157.6Q579.6 173.3 629.0 167.7" stroke="#d2203f" stroke-opacity="0.75" stroke-width="0.30"/>
<path d="M552.6 175.6Q602.3 132.0 629.0 71.5" stroke="#d2203f" stroke-opacity="0.75" stroke-width="0.30"/>
<path d="M645.0 93.3Q615.9 67.0 578.5 55.3" stroke="#d2203f" stroke-opacity="0.75" stroke-width="0.30"/>
<path d="M578.5 183.9Q621.7 145.9 645.0 93.3" stroke="#d2203f" stroke-opacity="0.75" stroke-width="0.30"/>
<path d="M645.0 145.9Q595.5 150.6 552.6 175.6" stroke="#d2203f" stroke-opacity="0.75" stroke-width="0.30"/>
<path d="M645.0 93.3Q578.8 99.6 521.4 133.1" stroke="#d2203f" stroke-opacity="0.75" stroke-width="0.31"/>
<path d="M552.6 175.6Q552.9 126.4 532.5 81.6" stroke="#d2203f" stroke-opacity="0.75" stroke-width="0.32"/>
<path d="M629.0 71.5Q605.2 123.7 605.5 181.1" stroke="#d2203f" stroke-opacity="0.75" stroke-width="0.33"/>
<path d="M552.6 63.6Q589.7 114.9 645.0 145.9" stroke="#d2203f" stroke-opacity="0.75" stroke-width="0.33"/>
<path d="M645.0 145.9Q634.6 155.0 629.0 167.7" stroke="#d2203f" stroke-opacity="0.75" stroke-width="0.33"/>
<path d="M578.5 183.9Q558.4 165.7 532.5 157.6" stroke="#d2203f" stroke-opacity="0.75" stroke-width="0.33"/>
<path d="M521.4 133.1Q571.4 162.2 629.0 167.7" stroke="#d2203f" stroke-opacity="0.75" stroke-width="0.33"/>
<path d="M629.0 167.7Q590.2 114.0 532.5 81.6" stroke="#d2203f" stroke-opacity="0.75" stroke-width="0.34"/>
<path d="M532.5 157.6Q540.8 119.6 532.5 81.6" stroke="#d2203f" stroke-opacity="0.75" stroke-width="0.34"/>
<path d="M578.5 55.3Q607.5 81.6 645.0 93.3" stroke="#d2203f" stroke-opacity="0.75" stroke-width="0.34"/>
<path d="M532.5 157.6Q566.7 111.5 578.5 55.3" stroke="#d2203f" stroke-opacity="0.75" stroke-width="0.34"/>
<path d="M552.6 63.6Q540.3 119.6 552.6 175.6" stroke="#d2203f" stroke-opacity="0.75" stroke-width="0.35"/>
<path d="M605.5 58.1Q578.5 55.0 552.6 63.6" stroke="#d2203f" stroke-opacity="0.75" stroke-width="0.35"/>
<path d="M578.5 183.9Q566.5 176.9 552.6 175.6" stroke="#d2203f" stroke-opacity="0.75" stroke-width="0.35"/>
<path d="M629.0 167.7Q582.0 125.1 521.4 106.1" stroke="#3f82ba" stroke-opacity="0.75" stroke-width="0.35"/>
<path d="M645.0 145.9Q621.7 93.3 578.5 55.3" stroke="#3f82ba" stroke-opacity="0.75" stroke-width="0.35"/>
<path d="M552.6 63.6Q552.3 126.6 578.5 183.9" stroke="#d2203f" stroke-opacity="0.75" stroke-width="0.35"/>
<path d="M645.0 145.9Q584.6 125.9 521.4 133.1" stroke="#d2203f" stroke-opacity="0.75" stroke-width="0.35"/>
<path d="M578.5 183.9Q615.9 172.2 645.0 145.9" stroke="#d2203f" stroke-opacity="0.75" stroke-width="0.36"/>
<path d="M532.5 81.6Q587.4 99.8 645.0 93.3" stroke="#d2203f" stroke-opacity="0.75" stroke-width="0.36"/>
<path d="M629.0 167.7Q616.1 105.9 578.5 55.3" stroke="#d2203f" stroke-opacity="0.75" stroke-width="0.37"/>
<path d="M552.6 63.6Q532.2 108.4 532.5 157.6" stroke="#d2203f" stroke-opacity="0.75" stroke-width="0.37"/>
<path d="M532.5 81.6Q558.4 73.5 578.5 55.3" stroke="#d2203f" stroke-opacity="0.75" stroke-width="0.37"/>
<path d="M532.5 157.6Q590.0 164.1 645.0 145.9" stroke="#d2203f" stroke-opacity="0.75" stroke-width="0.37"/>
<path d="M578.5 55.3Q601.7 107.9 645.0 145.9" stroke="#d2203f" stroke-opacity="0.75" stroke-width="0.37"/>
<path d="M605.5 58.1Q592.3 53.7 578.5 55.3" stroke="#d2203f" stroke-opacity="0.75" stroke-width="0.37"/>
<path d="M578.5 183.9Q558.5 138.8 521.4 106.1" stroke="#d2203f" stroke-opacity="0.75" stroke-width="0.37"/>
<path d="M552.6 175.6Q602.1 170.9 645.0 145.9" stroke="#d2203f" stroke-opacity="0.75" stroke-width="0.37"/>
<path d="M645.0 93.3Q615.6 132.9 605.5 181.1" stroke="#d2203f" stroke-opacity="0.75" stroke-width="0.37"/>
<path d="M552.6 175.6Q565.0 119.6 552.6 63.6" stroke="#d2203f" stroke-opacity="0.75" stroke-width="0.38"/>
<path d="M521.4 133.1Q587.6 126.8 645.0 93.3" stroke="#d2203f" stroke-opacity="0.75" stroke-width="0.38"/>
<path d="M645.0 93.3Q602.1 68.3 552.6 63.6" stroke="#d2203f" stroke-opacity="0.75" stroke-width="0.38"/>
<path d="M521.4 133.1Q532.4 157.8 552.6 175.6" stroke="#d2203f" stroke-opacity="0.75" stroke-width="0.38"/>
<path d="M645.0 93.3Q581.6 113.1 532.5 157.6" stroke="#d2203f" stroke-opacity="0.75" stroke-width="0.38"/>
<path d="M521.4 106.1Q541.4 151.3 578.5 183.9" stroke="#d2203f" stroke-opacity="0.75" stroke-width="0.38"/>
<path d="M629.0 167.7Q615.8 171.8 605.5 181.1" stroke="#d2203f" stroke-opacity="0.75" stroke-width="0.39"/>
<path d="M629.0 71.5Q571.3 104.0 532.5 157.6" stroke="#d2203f" stroke-opacity="0.75" stroke-width="0.39"/>
<path d="M578.5 55.3Q544.2 101.4 532.5 157.6" stroke="#d2203f" stroke-opacity="0.75" stroke-width="0.39"/>
<path d="M578.5 55.3Q591.7 59.6 605.5 58.1" stroke="#d2203f" stroke-opacity="0.75" stroke-width="0.40"/>
<path d="M578.5 55.3Q607.5 95.4 650.6 119.6" stroke="#d2203f" stroke-opacity="0.75" stroke-width="0.40"/>
<path d="M532.5 81.6Q571.6 77.8 605.5 58.1" stroke="#d2203f" stroke-opacity="0.75" stroke-width="0.40"/>
<path d="M629.0 167.7Q602.3 107.2 552.6 63.6" stroke="#3f82ba" stroke-opacity="0.75" stroke-width="0.40"/>
<path d="M645.0 145.9Q595.8 101.4 532.5 81.6" stroke="#3f82ba" stroke-opacity="0.75" stroke-width="0.40"/>
<path d="M645.0 145.9Q645.2 107.0 629.0 71.5" stroke="#d2203f" stroke-opacity="0.75" stroke-width="0.40"/>
<path d="M532.5 157.6Q532.6 130.7 521.4 106.1" stroke="#d2203f" stroke-opacity="0.75" stroke-width="0.40"/>
<path d="M645.0 93.3Q590.0 75.1 532.5 81.6" stroke="#d2203f" stroke-opacity="0.75" stroke-width="0.41"/>
<path d="M645.0 93.3Q581.8 86.1 521.4 106.1" stroke="#d2203f" stroke-opacity="0.75" stroke-width="0.42"/>
<path d="M629.0 167.7Q639.4 158.6 645.0 145.9" stroke="#d2203f" stroke-opacity="0.75" stroke-width="0.42"/>
<path d="M521.4 106.1Q578.8 139.6 645.0 145.9" stroke="#d2203f" stroke-opacity="0.75" stroke-width="0.43"/>
<path d="M605.5 58.1Q615.8 67.4 629.0 71.5" stroke="#d2203f" stroke-opacity="0.75" stroke-width="0.43"/>
<path d="M629.0 167.7Q579.0 138.5 521.4 133.1" stroke="#d2203f" stroke-opacity="0.75" stroke-width="0.43"/>
<path d="M532.5 81.6Q558.0 139.4 605.5 181.1" stroke="#d2203f" stroke-opacity="0.75" stroke-width="0.43"/>
<path d="M521.4 106.1Q568.4 148.7 629.0 167.7" stroke="#d2203f" stroke-opacity="0.75" stroke-width="0.44"/>
<path d="M532.5 157.6Q566.4 177.4 605.5 181.1" stroke="#d2203f" stroke-opacity="0.75" stroke-width="0.44"/>
<path d="M521.4 133.1Q581.8 153.1 645.0 145.9" stroke="#d2203f" stroke-opacity="0.75" stroke-width="0.44"/>
<path d="M552.6 175.6Q607.9 144.6 645.0 93.3" stroke="#d2203f" stroke-opacity="0.75" stroke-width="0.44"/>
<path d="M578.5 183.9Q605.8 124.0 605.5 58.1" stroke="#d2203f" stroke-opacity="0.75" stroke-width="0.44"/>
<path d="M532.5 81.6Q524.2 92.6 521.4 106.1" stroke="#d2203f" stroke-opacity="0.75" stroke-width="0.44"/>
<path d="M521.4 106.1Q555.2 152.9 605.5 181.1" stroke="#d2203f" stroke-opacity="0.75" stroke-width="0.44"/>
<path d="M578.5 183.9Q621.6 159.7 650.6 119.6" stroke="#d2203f" stroke-opacity="0.75" stroke-width="0.45"/>
<path d="M650.6 119.6Q587.4 125.6 532.5 157.6" stroke="#d2203f" stroke-opacity="0.75" stroke-width="0.45"/>
<path d="M605.5 58.1Q566.4 61.8 532.5 81.6" stroke="#d2203f" stroke-opacity="0.75" stroke-width="0.45"/>
<path d="M578.5 55.3Q541.4 87.9 521.4 133.1" stroke="#d2203f" stroke-opacity="0.75" stroke-width="0.45"/>
<path d="M552.6 175.6Q591.7 180.1 629.0 167.7" stroke="#d2203f" stroke-opacity="0.75" stroke-width="0.46"/>
<path d="M532.5 81.6Q544.2 137.8 578.5 183.9" stroke="#d2203f" stroke-opacity="0.75" stroke-width="0.47"/>
<path d="M552.6 63.6Q540.6 70.3 532.5 81.6" stroke="#d2203f" stroke-opacity="0.75" stroke-width="0.47"/>
<path d="M532.5 81.6Q581.8 87.2 629.0 71.5" stroke="#d2203f" stroke-opacity="0.75" stroke-width="0.47"/>
<path d="M629.0 71.5Q579.4 115.2 552.6 175.6" stroke="#d2203f" stroke-opacity="0.75" stroke-width="0.47"/>
<path d="M521.4 133.1Q532.6 108.5 532.5 81.6" stroke="#d2203f" stroke-opacity="0.75" stroke-width="0.48"/>
<path d="M578.5 183.9Q605.5 181.4 629.0 167.7" stroke="#d2203f" stroke-opacity="0.75" stroke-width="0.48"/>
<path d="M645.0 145.9Q650.7 119.6 645.0 93.3" stroke="#d2203f" stroke-opacity="0.75" stroke-width="0.49"/>
<path d="M578.5 55.3Q601.9 68.9 629.0 71.5" stroke="#d2203f" stroke-opacity="0.75" stroke-width="0.49"/>
<path d="M521.4 106.1Q555.5 87.0 578.5 55.3" stroke="#d2203f" stroke-opacity="0.75" stroke-width="0.49"/>
<path d="M552.6 175.6Q578.5 184.2 605.5 181.1" stroke="#d2203f" stroke-opacity="0.75" stroke-width="0.50"/>
<path d="M521.4 106.1Q529.4 144.3 552.6 175.6" stroke="#d2203f" stroke-opacity="0.75" stroke-width="0.50"/>
<path d="M552.6 63.6Q579.7 66.6 605.5 58.1" stroke="#d2203f" stroke-opacity="0.75" stroke-width="0.50"/>
<path d="M578.5 183.9Q578.8 120.9 552.6 63.6" stroke="#d2203f" stroke-opacity="0.75" stroke-width="0.50"/>
<path d="M532.5 81.6Q524.1 119.6 532.5 157.6" stroke="#d2203f" stroke-opacity="0.75" stroke-width="0.50"/>
<path d="M578.5 55.3Q564.6 56.6 552.6 63.6" stroke="#d2203f" stroke-opacity="0.75" stroke-width="0.51"/>
<path d="M521.4 133.1Q571.7 104.8 605.5 58.1" stroke="#d2203f" stroke-opacity="0.75" stroke-width="0.52"/>
<path d="M521.4 106.1Q579.0 100.7 629.0 71.5" stroke="#d2203f" stroke-opacity="0.75" stroke-width="0.52"/>
<path d="M578.5 183.9Q616.1 133.3 629.0 71.5" stroke="#d2203f" stroke-opacity="0.75" stroke-width="0.52"/>
<path d="M578.5 183.9Q592.3 185.5 605.5 181.1" stroke="#d2203f" stroke-opacity="0.75" stroke-width="0.53"/>
<path d="M532.5 81.6Q587.4 113.6 650.6 119.6" stroke="#d2203f" stroke-opacity="0.75" stroke-width="0.53"/>
<path d="M552.6 175.6Q564.6 182.6 578.5 183.9" stroke="#d2203f" stroke-opacity="0.75" stroke-width="0.53"/>
<path d="M552.6 63.6Q532.4 81.4 521.4 106.1" stroke="#d2203f" stroke-opacity="0.75" stroke-width="0.54"/>
<path d="M552.6 175.6Q578.8 118.3 578.5 55.3" stroke="#d2203f" stroke-opacity="0.75" stroke-width="0.54"/>
<path d="M629.0 71.5Q634.6 84.2 645.0 93.3" stroke="#d2203f" stroke-opacity="0.75" stroke-width="0.54"/>
<path d="M605.5 181.1Q619.0 119.6 605.5 58.1" stroke="#d2203f" stroke-opacity="0.75" stroke-width="0.56"/>
<path d="M629.0 71.5Q628.8 110.5 645.0 145.9" stroke="#d2203f" stroke-opacity="0.75" stroke-width="0.56"/>
<path d="M521.4 106.1Q529.7 95.1 532.5 81.6" stroke="#d2203f" stroke-opacity="0.75" stroke-width="0.56"/>
<path d="M532.5 157.6Q595.7 151.6 650.6 119.6" stroke="#d2203f" stroke-opacity="0.75" stroke-width="0.57"/>
<path d="M552.6 175.6Q541.7 150.9 521.4 133.1" stroke="#d2203f" stroke-opacity="0.75" stroke-width="0.58"/>
<path d="M532.5 157.6Q529.7 144.1 521.4 133.1" stroke="#d2203f" stroke-opacity="0.75" stroke-width="0.59"/>
<path d="M521.4 133.1Q544.4 164.8 578.5 183.9" stroke="#d2203f" stroke-opacity="0.75" stroke-width="0.59"/>
<path d="M578.5 183.9Q555.5 152.2 521.4 133.1" stroke="#d2203f" stroke-opacity="0.75" stroke-width="0.59"/>
<path d="M645.0 93.3Q644.9 107.1 650.6 119.6" stroke="#d2203f" stroke-opacity="0.75" stroke-width="0.60"/>
<path d="M645.0 93.3Q589.7 124.3 552.6 175.6" stroke="#d2203f" stroke-opacity="0.75" stroke-width="0.61"/>
<path d="M578.5 183.9Q592.6 119.6 578.5 55.3" stroke="#d2203f" stroke-opacity="0.75" stroke-width="0.62"/>
<path d="M629.0 71.5Q591.4 122.2 578.5 183.9" stroke="#d2203f" stroke-opacity="0.75" stroke-width="0.63"/>
<path d="M629.0 167.7Q601.9 170.3 578.5 183.9" stroke="#d2203f" stroke-opacity="0.75" stroke-width="0.65"/>
<path d="M521.4 106.1Q584.6 113.3 645.0 93.3" stroke="#d2203f" stroke-opacity="0.75" stroke-width="0.65"/>
<path d="M629.0 71.5Q568.4 90.5 521.4 133.1" stroke="#d2203f" stroke-opacity="0.75" stroke-width="0.65"/>
<path d="M650.6 119.6Q595.5 136.8 552.6 175.6" stroke="#d2203f" stroke-opacity="0.75" stroke-width="0.66"/>
<path d="M605.5 58.1Q615.6 106.3 645.0 145.9" stroke="#d2203f" stroke-opacity="0.75" stroke-width="0.66"/>
<path d="M629.0 71.5Q618.4 119.6 629.0 167.7" stroke="#d2203f" stroke-opacity="0.75" stroke-width="0.67"/>
<path d="M605.5 181.1Q634.9 141.6 645.0 93.3" stroke="#d2203f" stroke-opacity="0.75" stroke-width="0.67"/>
<path d="M629.0 167.7Q589.9 163.3 552.6 175.6" stroke="#d2203f" stroke-opacity="0.75" stroke-width="0.67"/>
<path d="M521.4 133.1Q524.2 146.6 532.5 157.6" stroke="#d2203f" stroke-opacity="0.75" stroke-width="0.68"/>
<path d="M629.0 71.5Q618.7 62.2 605.5 58.1" stroke="#d2203f" stroke-opacity="0.75" stroke-width="0.68"/>
<path d="M605.5 181.1Q591.7 179.6 578.5 183.9" stroke="#d2203f" stroke-opacity="0.75" stroke-width="0.68"/>
<path d="M552.6 63.6Q566.5 62.3 578.5 55.3" stroke="#d2203f" stroke-opacity="0.75" stroke-width="0.69"/>
<path d="M650.6 119.6Q644.9 132.1 645.0 145.9" stroke="#d2203f" stroke-opacity="0.75" stroke-width="0.69"/>
<path d="M605.5 58.1Q566.1 111.0 552.6 175.6" stroke="#d2203f" stroke-opacity="0.75" stroke-width="0.69"/>
<path d="M532.5 157.6Q579.9 115.9 605.5 58.1" stroke="#d2203f" stroke-opacity="0.75" stroke-width="0.70"/>
<path d="M605.5 58.1Q558.2 72.9 521.4 106.1" stroke="#d2203f" stroke-opacity="0.75" stroke-width="0.70"/>
<path d="M532.5 157.6Q552.6 175.8 578.5 183.9" stroke="#d2203f" stroke-opacity="0.75" stroke-width="0.70"/>
<path d="M552.6 63.6Q529.4 94.9 521.4 133.1" stroke="#d2203f" stroke-opacity="0.75" stroke-width="0.71"/>
<path d="M629.0 71.5Q591.7 59.1 552.6 63.6" stroke="#d2203f" stroke-opacity="0.75" stroke-width="0.71"/>
<path d="M645.0 145.9Q587.6 112.4 521.4 106.1" stroke="#d2203f" stroke-opacity="0.75" stroke-width="0.74"/>
<path d="M521.4 133.1Q587.5 140.5 650.6 119.6" stroke="#d2203f" stroke-opacity="0.75" stroke-width="0.75"/>
<path d="M521.4 106.1Q521.3 133.1 532.5 157.6" stroke="#d2203f" stroke-opacity="0.75" stroke-width="0.75"/>
<path d="M605.5 58.1Q621.3 93.8 650.6 119.6" stroke="#d2203f" stroke-opacity="0.75" stroke-width="0.76"/>
<path d="M578.5 55.3Q552.6 63.4 532.5 81.6" stroke="#d2203f" stroke-opacity="0.75" stroke-width="0.77"/>
<path d="M532.5 81.6Q544.5 74.8 552.6 63.6" stroke="#d2203f" stroke-opacity="0.75" stroke-width="0.77"/>
<path d="M605.5 58.1Q591.9 119.6 605.5 181.1" stroke="#d2203f" stroke-opacity="0.75" stroke-width="0.77"/>
<path d="M605.5 58.1Q555.2 86.3 521.4 133.1" stroke="#d2203f" stroke-opacity="0.75" stroke-width="0.78"/>
<path d="M552.6 63.6Q579.4 124.0 629.0 167.7" stroke="#d2203f" stroke-opacity="0.75" stroke-width="0.83"/>
<path d="M605.5 181.1Q579.9 123.3 532.5 81.6" stroke="#d2203f" stroke-opacity="0.75" stroke-width="0.83"/>
<path d="M605.5 181.1Q605.8 115.2 578.5 55.3" stroke="#d2203f" stroke-opacity="0.75" stroke-width="0.84"/>
<path d="M629.0 71.5Q634.5 97.9 650.6 119.6" stroke="#d2203f" stroke-opacity="0.75" stroke-width="0.86"/>
<path d="M552.6 175.6Q544.5 164.4 532.5 157.6" stroke="#d2203f" stroke-opacity="0.75" stroke-width="0.87"/>
<path d="M605.5 181.1Q579.7 172.6 552.6 175.6" stroke="#d2203f" stroke-opacity="0.75" stroke-width="0.89"/>
<path d="M578.5 55.3Q552.3 112.6 552.6 175.6" stroke="#d2203f" stroke-opacity="0.75" stroke-width="0.90"/>
<path d="M552.6 175.6Q544.7 137.5 521.4 106.1" stroke="#d2203f" stroke-opacity="0.75" stroke-width="0.90"/>
<path d="M605.5 181.1Q571.6 161.4 532.5 157.6" stroke="#d2203f" stroke-opacity="0.75" stroke-width="0.92"/>
<path d="M532.5 157.6Q590.2 125.2 629.0 71.5" stroke="#d2203f" stroke-opacity="0.75" stroke-width="0.92"/>
<path d="M605.5 181.1Q568.7 147.8 521.4 133.1" stroke="#d2203f" stroke-opacity="0.75" stroke-width="0.92"/>
<path d="M532.5 81.6Q532.2 130.8 552.6 175.6" stroke="#d2203f" stroke-opacity="0.75" stroke-width="0.93"/>
<path d="M645.0 145.9Q587.4 139.4 532.5 157.6" stroke="#d2203f" stroke-opacity="0.75" stroke-width="0.93"/>
<path d="M521.4 106.1Q568.7 91.4 605.5 58.1" stroke="#d2203f" stroke-opacity="0.75" stroke-width="0.94"/>
<path d="M650.6 119.6Q650.7 105.8 645.0 93.3" stroke="#d2203f" stroke-opacity="0.75" stroke-width="0.95"/>
<path d="M650.6 119.6Q607.5 143.8 578.5 183.9" stroke="#d2203f" stroke-opacity="0.75" stroke-width="1.00"/>
<path d="M521.4 133.1Q558.2 166.3 605.5 181.1" stroke="#d2203f" stroke-opacity="0.75" stroke-width="1.02"/>
<path d="M605.5 181.1Q571.7 134.4 521.4 106.1" stroke="#d2203f" stroke-opacity="0.75" stroke-width="1.02"/>
<path d="M552.6 175.6Q592.0 122.7 605.5 58.1" stroke="#d2203f" stroke-opacity="0.75" stroke-width="1.02"/>
<path d="M650.6 119.6Q587.5 98.7 521.4 106.1" stroke="#d2203f" stroke-opacity="0.75" stroke-width="1.05"/>
<path d="M650.6 119.6Q634.8 83.9 605.5 58.1" stroke="#d2203f" stroke-opacity="0.75" stroke-width="1.08"/>
<path d="M552.6 63.6Q589.9 75.9 629.0 71.5" stroke="#d2203f" stroke-opacity="0.75" stroke-width="1.10"/>
<path d="M629.0 71.5Q579.6 65.9 532.5 81.6" stroke="#d2203f" stroke-opacity="0.75" stroke-width="1.11"/>
<path d="M532.5 157.6Q540.6 168.9 552.6 175.6" stroke="#d2203f" stroke-opacity="0.75" stroke-width="1.11"/>
<path d="M650.6 119.6Q607.8 80.8 552.6 63.6" stroke="#d2203f" stroke-opacity="0.75" stroke-width="1.13"/>
<path d="M605.5 181.1Q629.3 128.9 629.0 71.5" stroke="#d2203f" stroke-opacity="0.75" stroke-width="1.14"/>
<path d="M629.0 71.5Q571.4 77.0 521.4 106.1" stroke="#d2203f" stroke-opacity="0.75" stroke-width="1.14"/>
<path d="M645.0 93.3Q629.1 71.3 605.5 58.1" stroke="#d2203f" stroke-opacity="0.75" stroke-width="1.15"/>
<path d="M605.5 58.1Q558.0 99.8 532.5 157.6" stroke="#d2203f" stroke-opacity="0.75" stroke-width="1.19"/>
<path d="M605.5 58.1Q578.1 118.0 578.5 183.9" stroke="#d2203f" stroke-opacity="0.75" stroke-width="1.20"/>
<path d="M532.5 157.6Q595.8 137.8 645.0 93.3" stroke="#d2203f" stroke-opacity="0.75" stroke-width="1.21"/>
<path d="M650.6 119.6Q621.3 145.4 605.5 181.1" stroke="#d2203f" stroke-opacity="0.75" stroke-width="1.23"/>
<path d="M605.5 181.1Q618.7 177.0 629.0 167.7" stroke="#d2203f" stroke-opacity="0.75" stroke-width="1.24"/>
<path d="M605.5 58.1Q621.3 80.0 645.0 93.3" stroke="#d2203f" stroke-opacity="0.75" stroke-width="1.24"/>
<path d="M532.5 81.6Q581.6 126.1 645.0 145.9" stroke="#d2203f" stroke-opacity="0.75" stroke-width="1.25"/>
<path d="M552.6 175.6Q607.8 158.4 650.6 119.6" stroke="#d2203f" stroke-opacity="0.75" stroke-width="1.28"/>
<path d="M552.6 63.6Q595.5 102.4 650.6 119.6" stroke="#d2203f" stroke-opacity="0.75" stroke-width="1.28"/>
<path d="M650.6 119.6Q595.7 87.6 532.5 81.6" stroke="#d2203f" stroke-opacity="0.75" stroke-width="1.30"/>
<path d="M532.5 81.6Q571.3 135.2 629.0 167.7" stroke="#d2203f" stroke-opacity="0.75" stroke-width="1.32"/>
<path d="M645.0 145.9Q621.3 159.2 605.5 181.1" stroke="#d2203f" stroke-opacity="0.75" stroke-width="1.34"/>
<path d="M650.6 119.6Q621.6 79.5 578.5 55.3" stroke="#d2203f" stroke-opacity="0.75" stroke-width="1.38"/>
<path d="M532.5 81.6Q521.3 106.1 521.4 133.1" stroke="#d2203f" stroke-opacity="0.75" stroke-width="1.38"/>
<path d="M578.5 183.9Q566.7 127.7 532.5 81.6" stroke="#d2203f" stroke-opacity="0.75" stroke-width="1.39"/>
<path d="M645.0 145.9Q607.9 94.6 552.6 63.6" stroke="#d2203f" stroke-opacity="0.75" stroke-width="1.40"/>
<path d="M521.4 133.1Q582.0 114.1 629.0 71.5" stroke="#d2203f" stroke-opacity="0.75" stroke-width="1.41"/>
<path d="M650.6 119.6Q645.1 93.2 629.0 71.5" stroke="#d2203f" stroke-opacity="0.75" stroke-width="1.43"/>
<path d="M521.4 133.1Q558.5 100.4 578.5 55.3" stroke="#d2203f" stroke-opacity="0.75" stroke-width="1.45"/>
<path d="M578.5 55.3Q578.1 121.2 605.5 181.1" stroke="#d2203f" stroke-opacity="0.75" stroke-width="1.47"/>
<path d="M650.6 119.6Q584.5 112.1 521.4 133.1" stroke="#d2203f" stroke-opacity="0.75" stroke-width="1.50"/>
<path d="M650.6 119.6Q634.5 141.3 629.0 167.7" stroke="#d2203f" stroke-opacity="0.75" stroke-width="1.50"/>
<path d="M578.5 55.3Q544.4 74.4 521.4 106.1" stroke="#d2203f" stroke-opacity="0.75" stroke-width="1.50"/>
<path d="M552.6 63.6Q595.5 88.6 645.0 93.3" stroke="#d2203f" stroke-opacity="0.75" stroke-width="1.50"/>
<path d="M552.6 63.6Q566.1 128.2 605.5 181.1" stroke="#d2203f" stroke-opacity="0.75" stroke-width="1.50"/>
<path d="M521.4 106.1Q584.5 127.1 650.6 119.6" stroke="#d2203f" stroke-opacity="0.75" stroke-width="1.50"/>
<path d="M521.4 106.1Q541.7 88.3 552.6 63.6" stroke="#d2203f" stroke-opacity="0.75" stroke-width="1.50"/>
<path d="M521.4 106.1Q518.5 119.6 521.4 133.1" stroke="#d2203f" stroke-opacity="0.75" stroke-width="1.50"/>
<path d="M521.4 133.1Q544.7 101.7 552.6 63.6" stroke="#d2203f" stroke-opacity="0.75" stroke-width="1.50"/>
<path d="M521.4 133.1Q524.4 119.6 521.4 106.1" stroke="#d2203f" stroke-opacity="0.75" stroke-width="1.50"/>
<path d="M532.5 157.6Q552.9 112.8 552.6 63.6" stroke="#d2203f" stroke-opacity="0.75" stroke-width="1.50"/>
<path d="M605.5 181.1Q634.8 155.3 650.6 119.6" stroke="#d2203f" stroke-opacity="0.75" stroke-width="1.50"/>
<path d="M605.5 181.1Q592.0 116.5 552.6 63.6" stroke="#d2203f" stroke-opacity="0.75" stroke-width="1.50"/>
<path d="M605.5 181.1Q629.1 167.9 645.0 145.9" stroke="#d2203f" stroke-opacity="0.75" stroke-width="1.50"/>
<path d="M629.0 167.7Q639.6 119.6 629.0 71.5" stroke="#3f82ba" stroke-opacity="0.75" stroke-width="0.50"/>
<path d="M645.0 145.9Q634.9 97.6 605.5 58.1" stroke="#3f82ba" stroke-opacity="0.75" stroke-width="0.50"/>
<path d="M605.5 58.1Q605.2 115.5 629.0 167.7" stroke="#3f82ba" stroke-opacity="0.75" stroke-width="0.70"/>
<path d="M645.0 145.9Q650.7 133.4 650.6 119.6" stroke="#3f82ba" stroke-opacity="0.75" stroke-width="0.70"/>
<path d="M629.0 167.7Q645.2 132.2 645.0 93.3" stroke="#3f82ba" stroke-opacity="0.75" stroke-width="0.80"/>
<path d="M629.0 167.7Q645.1 146.0 650.6 119.6" stroke="#3f82ba" stroke-opacity="0.75" stroke-width="1.00"/>
<path d="M629.0 167.7Q629.3 110.3 605.5 58.1" stroke="#3f82ba" stroke-opacity="0.75" stroke-width="1.00"/>
<path d="M650.6 119.6C685.6 132.1 685.6 107.1 650.6 119.6" stroke="#c42544" stroke-opacity="0.85" stroke-width="1.40"/>
<path d="M645.0 93.3C682.0 90.6 671.9 67.7 645.0 93.3" stroke="#c42544" stroke-opacity="0.85" stroke-width="0.40"/>
<path d="M629.0 71.5C661.8 54.0 643.3 37.2 629.0 71.5" stroke="#c42544" stroke-opacity="0.85" stroke-width="0.90"/>
<path d="M605.5 58.1C628.3 28.7 604.5 20.9 605.5 58.1" stroke="#c42544" stroke-opacity="0.85" stroke-width="0.40"/>
<path d="M578.5 55.3C587.2 19.1 562.4 21.8 578.5 55.3" stroke="#c42544" stroke-opacity="0.85" stroke-width="0.40"/>
<path d="M552.6 63.6C545.8 27.0 524.2 39.6 552.6 63.6" stroke="#c42544" stroke-opacity="0.85" stroke-width="0.90"/>
<path d="M532.5 81.6C511.4 51.0 496.8 71.3 532.5 81.6" stroke="#c42544" stroke-opacity="0.85" stroke-width="0.90"/>
<path d="M521.4 106.1C489.8 86.7 484.6 111.2 521.4 106.1" stroke="#c42544" stroke-opacity="0.85" stroke-width="1.20"/>
<path d="M521.4 133.1C484.6 128.0 489.8 152.5 521.4 133.1" stroke="#c42544" stroke-opacity="0.85" stroke-width="0.40"/>
<path d="M532.5 157.6C496.8 167.9 511.4 188.2 532.5 157.6" stroke="#c42544" stroke-opacity="0.85" stroke-width="0.40"/>
<path d="M552.6 175.6C524.2 199.6 545.8 212.2 552.6 175.6" stroke="#c42544" stroke-opacity="0.85" stroke-width="0.40"/>
<path d="M578.5 183.9C562.4 217.4 587.2 220.1 578.5 183.9" stroke="#c42544" stroke-opacity="0.85" stroke-width="0.40"/>
<path d="M605.5 181.1C604.5 218.3 628.3 210.5 605.5 181.1" stroke="#c42544" stroke-opacity="0.85" stroke-width="0.40"/>
<path d="M629.0 167.7C643.3 202.0 661.8 185.2 629.0 167.7" stroke="#c42544" stroke-opacity="0.85" stroke-width="0.40"/>
<path d="M645.0 145.9C671.9 171.5 682.0 148.6 645.0 145.9" stroke="#3f82ba" stroke-opacity="0.85" stroke-width="0.80"/>
</g>
<circle cx="650.6" cy="119.6" r="6.6" fill="#ff2014"/>
<circle cx="645.0" cy="93.3" r="6.6" fill="#3c86c2"/>
<circle cx="629.0" cy="71.5" r="6.6" fill="#45c645"/>
<circle cx="605.5" cy="58.1" r="6.6" fill="#a045b8"/>
<circle cx="578.5" cy="55.3" r="6.6" fill="#f2931f"/>
<circle cx="552.6" cy="63.6" r="6.6" fill="#f874c6"/>
<circle cx="532.5" cy="81.6" r="6.6" fill="#c39bd8"/>
<circle cx="521.4" cy="106.1" r="6.6" fill="#b55a26"/>
<circle cx="521.4" cy="133.1" r="6.6" fill="#56bce8"/>
<circle cx="532.5" cy="157.6" r="6.6" fill="#252e80"/>
<circle cx="552.6" cy="175.6" r="6.6" fill="#40aa7c"/>
<circle cx="578.5" cy="183.9" r="6.6" fill="#aaea80"/>
<circle cx="605.5" cy="181.1" r="6.6" fill="#dfbc2c"/>
<circle cx="629.0" cy="167.7" r="6.6" fill="#f28e9a"/>
<circle cx="645.0" cy="145.9" r="6.6" fill="#fc2e9e"/>
<g font-family='"Liberation Sans", Arial, sans-serif' font-size="5.3" fill="#000" stroke="#000" stroke-width="0.1" text-anchor="middle">
<text x="576.4" y="37.9">Mono1</text>
<text x="616.2" y="42.1">Hofbauer4</text>
<text x="543.5" y="47.8">Mono2</text>
<text x="643.1" y="59.2">Hofbauer3</text>
<text x="519.2" y="70.6">Mono3</text>
<text x="663.8" y="85.5">Hofbauer2</text>
<text x="499.8" y="102.6">Mono4</text>
<text x="667.1" y="122.0">Hofbauer1</text>
<text x="499.5" y="138.8">Neu1</text>
<text x="667.1" y="156.5">VCT_TP63</text>
<text x="515.0" y="169.6">Neu2</text>
<text x="645.2" y="184.6">VCT_LDHA</text>
<text x="543.5" y="191.8">Neu3</text>
<text x="612.6" y="200.2">Neu5</text>
<text x="576.7" y="204.1">Neu4</text>
</g>
<text x="587" y="16.9" font-family='"Liberation Sans", Arial, sans-serif' font-size="9.2" fill="#111" text-anchor="middle">Differential interaction strength</text>
<g font-family='"Liberation Sans", Arial, sans-serif' font-size="7.85">
<g fill="#dc1e4b">
<text x="40.8" y="257.7">PLXNB2</text>
<text x="40.8" y="267.0">Glutamate_byGLS_and_SLC1A3</text>
<text x="40.8" y="276.3">NGF</text>
<text x="40.8" y="285.5">TGFB2</text>
<text x="40.8" y="294.8">LRRTM3</text>
<text x="40.8" y="304.1">ADGRE5</text>
<text x="40.8" y="313.3">AREG</text>
<text x="40.8" y="322.6">PGF</text>
<text x="40.8" y="331.9">WNT2B</text>
<text x="40.8" y="341.2">CADM1</text>
<text x="40.8" y="350.4">ADGRL3</text>
<text x="40.8" y="359.7">LAMA2</text>
<text x="40.8" y="369.0">Glutamate_byGLS_and_SLC1A3</text>
<text x="40.8" y="378.2">Glutamate_byGLS_and_SLC1A3</text>
<text x="40.8" y="387.5">Glutamate_byGLS_and_SLC1A1</text>
<text x="40.8" y="396.8">Glutamate_byGLS_and_SLC1A1</text>
<text x="40.8" y="406.0">Glutamate_byGLS_and_SLC1A1</text>
<text x="40.8" y="415.3">integrin_a1b1_complex</text>
<text x="40.8" y="424.6">TGFB2</text>
<text x="40.8" y="433.9">PLXNB2</text>
<text x="40.8" y="443.1">WNT3A</text>
<text x="40.8" y="452.4">PGF</text>
<text x="40.8" y="461.7">TGFB2</text>
<text x="40.8" y="470.9">PGF</text>
</g>
<g fill="#3b78ab" text-anchor="end">
<text x="230.3" y="257.7">SEMA4D</text>
<text x="230.3" y="267.0">GRIK2</text>
<text x="230.3" y="276.3">SORT1</text>
<text x="230.3" y="285.5">TGFbeta_receptor1</text>
<text x="230.3" y="294.8">NRXN3</text>
<text x="230.3" y="304.1">CD55</text>
<text x="230.3" y="313.3">EGFR</text>
<text x="230.3" y="322.6">FLT1</text>
<text x="230.3" y="331.9">FZD5_LRP5</text>
<text x="230.3" y="341.2">CADM1</text>
<text x="230.3" y="350.4">TENM3</text>
<text x="230.3" y="359.7">ADGRG6</text>
<text x="230.3" y="369.0">GRIA3</text>
<text x="230.3" y="378.2">GRIA4</text>
<text x="230.3" y="387.5">GRIA4</text>
<text x="230.3" y="396.8">GRIA3</text>
<text x="230.3" y="406.0">GRIK2</text>
<text x="230.3" y="415.3">SEMA7A</text>
<text x="230.3" y="424.6">TGFbeta_receptor2</text>
<text x="230.3" y="433.9">SEMA4C</text>
<text x="230.3" y="443.1">FZD5_LRP5</text>
<text x="230.3" y="452.4">NRP2</text>
<text x="230.3" y="461.7">TGFBR3</text>
<text x="230.3" y="470.9">NRP1</text>
</g></g>
<rect x="237.2" y="247.1" width="11.7" height="224.4" fill="#fff" stroke="#777" stroke-width="0.65"/>
<rect x="256.3" y="247.1" width="11.4" height="224.4" fill="#fff" stroke="#777" stroke-width="0.65"/>
<path d="M235.0 252.9H237.2M235.0 262.2H237.2M235.0 271.4H237.2M235.0 280.7H237.2M235.0 290.0H237.2M235.0 299.2H237.2M235.0 308.5H237.2M235.0 317.8H237.2M235.0 327.1H237.2M235.0 336.3H237.2M235.0 345.6H237.2M235.0 354.9H237.2M235.0 364.1H237.2M235.0 373.4H237.2M235.0 382.7H237.2M235.0 391.9H237.2M235.0 401.2H237.2M235.0 410.5H237.2M235.0 419.8H237.2M235.0 429.0H237.2M235.0 438.3H237.2M235.0 447.6H237.2M235.0 456.8H237.2M235.0 466.1H237.2M243.1 471.5V474.1M261.7 471.5V474.1" stroke="#888" stroke-width="0.6" fill="none"/>
<circle cx="243.1" cy="252.9" r="3.9" fill="#ff2412"/>
<circle cx="243.1" cy="262.2" r="3.9" fill="#ff2412"/>
<circle cx="243.1" cy="271.4" r="3.9" fill="#ff2412"/>
<circle cx="243.1" cy="280.7" r="3.9" fill="#ff2412"/>
<circle cx="243.1" cy="290.0" r="3.9" fill="#ff2412"/>
<circle cx="243.1" cy="299.2" r="3.9" fill="#ff2412"/>
<circle cx="243.1" cy="308.5" r="3.9" fill="#ff2412"/>
<circle cx="243.1" cy="317.8" r="3.9" fill="#ff2412"/>
<circle cx="243.1" cy="327.1" r="3.9" fill="#ff2412"/>
<circle cx="243.1" cy="336.3" r="2.3" fill="#ff2412"/>
<circle cx="243.1" cy="345.6" r="3.9" fill="#dbc858"/>
<circle cx="243.1" cy="354.9" r="3.9" fill="#dbc858"/>
<circle cx="243.1" cy="364.1" r="3.9" fill="#dbc858"/>
<circle cx="243.1" cy="373.4" r="3.9" fill="#dbc858"/>
<circle cx="243.1" cy="382.7" r="3.9" fill="#dbc858"/>
<circle cx="243.1" cy="391.9" r="3.9" fill="#dbc858"/>
<circle cx="243.1" cy="401.2" r="3.9" fill="#1010ff"/>
<circle cx="243.1" cy="410.5" r="3.9" fill="#1010ff"/>
<circle cx="243.1" cy="419.8" r="3.9" fill="#1010ff"/>
<circle cx="243.1" cy="429.0" r="3.9" fill="#1010ff"/>
<circle cx="243.1" cy="438.3" r="3.9" fill="#1010ff"/>
<circle cx="243.1" cy="447.6" r="3.9" fill="#1010ff"/>
<circle cx="243.1" cy="456.8" r="3.9" fill="#1010ff"/>
<circle cx="243.1" cy="466.1" r="3.9" fill="#1010ff"/>
<circle cx="261.7" cy="252.9" r="0.6" fill="#b0b0b0"/>
<circle cx="261.7" cy="262.2" r="0.6" fill="#b0b0b0"/>
<circle cx="261.7" cy="271.4" r="0.6" fill="#b0b0b0"/>
<circle cx="261.7" cy="280.7" r="0.6" fill="#b0b0b0"/>
<circle cx="261.7" cy="290.0" r="0.6" fill="#b0b0b0"/>
<circle cx="261.7" cy="299.2" r="0.6" fill="#b0b0b0"/>
<circle cx="261.7" cy="308.5" r="0.6" fill="#b0b0b0"/>
<circle cx="261.7" cy="317.8" r="0.6" fill="#b0b0b0"/>
<circle cx="261.7" cy="327.1" r="0.6" fill="#b0b0b0"/>
<circle cx="261.7" cy="336.3" r="0.6" fill="#b0b0b0"/>
<circle cx="261.7" cy="345.6" r="0.6" fill="#b0b0b0"/>
<circle cx="261.7" cy="354.9" r="0.6" fill="#b0b0b0"/>
<circle cx="261.7" cy="364.1" r="0.6" fill="#b0b0b0"/>
<circle cx="261.7" cy="373.4" r="0.6" fill="#b0b0b0"/>
<circle cx="261.7" cy="382.7" r="0.6" fill="#b0b0b0"/>
<circle cx="261.7" cy="391.9" r="0.6" fill="#b0b0b0"/>
<circle cx="261.7" cy="401.2" r="0.6" fill="#b0b0b0"/>
<circle cx="261.7" cy="410.5" r="0.6" fill="#b0b0b0"/>
<circle cx="261.7" cy="419.8" r="0.6" fill="#b0b0b0"/>
<circle cx="261.7" cy="429.0" r="0.6" fill="#b0b0b0"/>
<circle cx="261.7" cy="438.3" r="0.6" fill="#b0b0b0"/>
<circle cx="261.7" cy="447.6" r="0.6" fill="#b0b0b0"/>
<circle cx="261.7" cy="456.8" r="0.6" fill="#b0b0b0"/>
<circle cx="261.7" cy="466.1" r="0.6" fill="#b0b0b0"/>
<g font-family='"Liberation Sans", Arial, sans-serif' font-size="6.5" fill="#333" text-anchor="end">
<text transform="translate(244.2 242.1) rotate(30)">sFGR_Larger</text>
<text transform="translate(262.4 242.1) rotate(30)">sFGR_Smaller</text>
</g>
<g font-family='"Liberation Sans", Arial, sans-serif' font-size="7.35" fill="#222">
<text x="269.7" y="255.2">-log10(PValue)</text>
<circle cx="291.1" cy="261.9" r="0.8" fill="#000"/>
<text x="296.9" y="264.5">0</text>
<circle cx="291.1" cy="271.9" r="1.95" fill="#000"/>
<text x="296.9" y="274.5">1</text>
<circle cx="291.1" cy="281.6" r="2.85" fill="#000"/>
<text x="296.9" y="284.2">2</text>
<circle cx="291.1" cy="291.0" r="3.85" fill="#000"/>
<text x="296.9" y="293.6">3</text>
<rect x="269.3" y="299.5" width="14.4" height="70.3" fill="url(#cg)"/>
<text x="285.9" y="306.1">1</text>
<text x="285.3" y="368.4">-1</text>
<text transform="translate(296.2 298.0) rotate(90)">mean(ligand, receptor)</text>
<rect x="269.3" y="374.2" width="9.8" height="4.7" fill="#e0244c"/>
<text x="280.9" y="379.2">Ligand</text>
<rect x="269.3" y="381.4" width="9.8" height="4.7" fill="#3874a8"/>
<text x="280.9" y="386.4">Receptor</text>
</g>
<g font-family='"Liberation Sans", Arial, sans-serif' font-size="7.8">
<text transform="translate(246.0 479.9) rotate(-90)" text-anchor="end"><tspan fill="#dc1e4b">SMC</tspan><tspan fill="#000" dx="1.4" dy="-1.0" font-size="6.32">|</tspan><tspan fill="#3b78ab" dx="1.4" dy="1.0">VCT_TP63</tspan></text>
<text transform="translate(264.8 479.9) rotate(-90)" text-anchor="end"><tspan fill="#dc1e4b">SMC</tspan><tspan fill="#000" dx="1.4" dy="-1.0" font-size="6.32">|</tspan><tspan fill="#3b78ab" dx="1.4" dy="1.0">VCT_TP63</tspan></text>
</g>
<g font-family='"Liberation Sans", Arial, sans-serif' font-size="7.55">
<g fill="#dc1e4b">
<text x="350.8" y="267.0">CADM3</text>
<text x="350.8" y="276.0">TNC</text>
<text x="350.8" y="284.9">WNT5A</text>
<text x="350.8" y="293.9">DHEAsulfate_bySULT2B</text>
<text x="350.8" y="302.8">PLXNA4</text>
<text x="350.8" y="311.8">CADM3</text>
<text x="350.8" y="320.7">VEGFA</text>
<text x="350.8" y="329.7">VEGFA</text>
<text x="350.8" y="338.6">TNFSF12</text>
<text x="350.8" y="347.6">WNT5A</text>
<text x="350.8" y="356.5">WNT5A</text>
<text x="350.8" y="365.5">WNT5A</text>
<text x="350.8" y="374.4">DHEAsulfate_bySULT2B</text>
<text x="350.8" y="383.4">DHEAsulfate_bySULT2B</text>
<text x="350.8" y="392.3">APOA1</text>
<text x="350.8" y="401.3">PLXNA4</text>
<text x="350.8" y="410.2">RSPO2</text>
<text x="350.8" y="419.2">RSPO2</text>
</g>
<g fill="#3b78ab" text-anchor="end">
<text x="518.6" y="267.0">CADM1</text>
<text x="518.6" y="276.0">integrin_aVb6_complex</text>
<text x="518.6" y="284.9">FZD6_LRP6</text>
<text x="518.6" y="293.9">PPARG</text>
<text x="518.6" y="302.8">APLP2</text>
<text x="518.6" y="311.8">NECTIN3</text>
<text x="518.6" y="320.7">NRP2</text>
<text x="518.6" y="329.7">FLT1</text>
<text x="518.6" y="338.6">TNFRSF12A</text>
<text x="518.6" y="347.6">FZD5_LRP5</text>
<text x="518.6" y="356.5">FZD5_LRP6</text>
<text x="518.6" y="365.5">FZD6_LRP5</text>
<text x="518.6" y="374.4">PPARA</text>
<text x="518.6" y="383.4">PPARD</text>
<text x="518.6" y="392.3">ABCA1</text>
<text x="518.6" y="401.3">APP</text>
<text x="518.6" y="410.2">LGR5</text>
<text x="518.6" y="419.2">LGR4</text>
</g></g>
<rect x="525.3" y="256.9" width="11.4" height="162.6" fill="#fff" stroke="#777" stroke-width="0.65"/>
<rect x="543.3" y="256.9" width="11.4" height="162.6" fill="#fff" stroke="#777" stroke-width="0.65"/>
<path d="M523.1 262.4H525.3M523.1 271.3H525.3M523.1 280.3H525.3M523.1 289.2H525.3M523.1 298.2H525.3M523.1 307.1H525.3M523.1 316.1H525.3M523.1 325.0H525.3M523.1 334.0H525.3M523.1 342.9H525.3M523.1 351.9H525.3M523.1 360.8H525.3M523.1 369.8H525.3M523.1 378.8H525.3M523.1 387.7H525.3M523.1 396.6H525.3M523.1 405.6H525.3M523.1 414.5H525.3M531.1 419.5V422.1M548.9 419.5V422.1" stroke="#888" stroke-width="0.6" fill="none"/>
<circle cx="531.1" cy="262.4" r="3.8" fill="#ff2412"/>
<circle cx="531.1" cy="271.3" r="3.8" fill="#ff2412"/>
<circle cx="531.1" cy="280.3" r="3.8" fill="#ff2412"/>
<circle cx="531.1" cy="289.2" r="3.8" fill="#ff2412"/>
<circle cx="531.1" cy="298.2" r="3.8" fill="#ff2412"/>
<circle cx="531.1" cy="307.1" r="3.8" fill="#dbc858"/>
<circle cx="531.1" cy="316.1" r="3.8" fill="#dbc858"/>
<circle cx="531.1" cy="325.0" r="3.8" fill="#dbc858"/>
<circle cx="531.1" cy="334.0" r="3.8" fill="#dbc858"/>
<circle cx="531.1" cy="342.9" r="3.8" fill="#dbc858"/>
<circle cx="531.1" cy="351.9" r="3.8" fill="#dbc858"/>
<circle cx="531.1" cy="360.8" r="3.8" fill="#dbc858"/>
<circle cx="531.1" cy="369.8" r="3.8" fill="#dbc858"/>
<circle cx="531.1" cy="378.8" r="3.8" fill="#dbc858"/>
<circle cx="531.1" cy="387.7" r="3.8" fill="#1010ff"/>
<circle cx="531.1" cy="396.6" r="3.8" fill="#1010ff"/>
<circle cx="531.1" cy="405.6" r="3.8" fill="#1010ff"/>
<circle cx="531.1" cy="414.5" r="3.8" fill="#1010ff"/>
<circle cx="548.9" cy="262.4" r="0.6" fill="#b0b0b0"/>
<circle cx="548.9" cy="271.3" r="0.6" fill="#b0b0b0"/>
<circle cx="548.9" cy="280.3" r="0.6" fill="#b0b0b0"/>
<circle cx="548.9" cy="289.2" r="0.6" fill="#b0b0b0"/>
<circle cx="548.9" cy="298.2" r="0.6" fill="#b0b0b0"/>
<circle cx="548.9" cy="307.1" r="0.6" fill="#b0b0b0"/>
<circle cx="548.9" cy="316.1" r="0.6" fill="#b0b0b0"/>
<circle cx="548.9" cy="325.0" r="0.6" fill="#b0b0b0"/>
<circle cx="548.9" cy="334.0" r="0.6" fill="#b0b0b0"/>
<circle cx="548.9" cy="342.9" r="0.6" fill="#b0b0b0"/>
<circle cx="548.9" cy="351.9" r="0.6" fill="#b0b0b0"/>
<circle cx="548.9" cy="360.8" r="0.6" fill="#b0b0b0"/>
<circle cx="548.9" cy="369.8" r="0.6" fill="#b0b0b0"/>
<circle cx="548.9" cy="378.8" r="0.6" fill="#b0b0b0"/>
<circle cx="548.9" cy="387.7" r="0.6" fill="#b0b0b0"/>
<circle cx="548.9" cy="396.6" r="0.6" fill="#b0b0b0"/>
<circle cx="548.9" cy="405.6" r="0.6" fill="#b0b0b0"/>
<circle cx="548.9" cy="414.5" r="0.6" fill="#b0b0b0"/>
<g font-family='"Liberation Sans", Arial, sans-serif' font-size="6.3" fill="#333" text-anchor="end">
<text transform="translate(531.6 252.2) rotate(30)">sFGR_Larger</text>
<text transform="translate(549.3 252.2) rotate(30)">sFGR_Smaller</text>
</g>
<g font-family='"Liberation Sans", Arial, sans-serif' font-size="7.1" fill="#222">
<text x="556.6" y="264.8">-log10(PValue)</text>
<circle cx="577.2" cy="271.1" r="0.8" fill="#000"/>
<text x="582.7" y="273.7">0</text>
<circle cx="577.2" cy="280.7" r="1.85" fill="#000"/>
<text x="582.7" y="283.3">1</text>
<circle cx="577.2" cy="290.0" r="2.7" fill="#000"/>
<text x="582.7" y="292.6">2</text>
<circle cx="577.2" cy="299.3" r="3.6" fill="#000"/>
<text x="582.7" y="301.9">3</text>
<rect x="556.6" y="307.6" width="13.7" height="67.2" fill="url(#cg)"/>
<text x="572.5" y="314.0">1</text>
<text x="571.9" y="373.5">-1</text>
<text transform="translate(581.2 306.1) rotate(90)">mean(ligand, receptor)</text>
<rect x="556.6" y="379.6" width="9.4" height="4.4" fill="#e0244c"/>
<text x="567.8" y="384.4">Ligand</text>
<rect x="556.6" y="386.3" width="9.4" height="4.4" fill="#3874a8"/>
<text x="567.8" y="391.1">Receptor</text>
</g>
<g font-family='"Liberation Sans", Arial, sans-serif' font-size="7.5">
<text transform="translate(535.1 427.8) rotate(-90)" text-anchor="end"><tspan fill="#dc1e4b">Fibroblast</tspan><tspan fill="#000" dx="1.4" dy="-1.0" font-size="6.08">|</tspan><tspan fill="#3b78ab" dx="1.4" dy="1.0">VCT_TP63</tspan></text>
<text transform="translate(553.2 427.8) rotate(-90)" text-anchor="end"><tspan fill="#dc1e4b">Fibroblast</tspan><tspan fill="#000" dx="1.4" dy="-1.0" font-size="6.08">|</tspan><tspan fill="#3b78ab" dx="1.4" dy="1.0">VCT_TP63</tspan></text>
</g>
<g font-family='"Liberation Sans", Arial, sans-serif' font-size="7.85">
<g fill="#dc1e4b">
<text x="40.8" y="584.4">FN1</text>
<text x="40.8" y="593.7">FN1</text>
<text x="40.8" y="603.0">IGF1</text>
<text x="40.8" y="612.2">NECTIN2</text>
<text x="40.8" y="621.5">JAM2</text>
<text x="40.8" y="630.8">RSPO3</text>
<text x="40.8" y="640.0">RSPO3</text>
<text x="40.8" y="649.3">IGF1</text>
<text x="40.8" y="658.6">IGF1</text>
<text x="40.8" y="667.9">EFNB2</text>
<text x="40.8" y="677.1">TGFB1</text>
<text x="40.8" y="686.4">integrin_a2b1_complex</text>
<text x="40.8" y="695.7">NOTCH1</text>
<text x="40.8" y="704.9">HLA-E</text>
<text x="40.8" y="714.2">JAG2</text>
<text x="40.8" y="723.5">JAG2</text>
</g>
<g fill="#3b78ab" text-anchor="end">
<text x="226" y="584.4">integrin_aVb1_complex</text>
<text x="226" y="593.7">integrin_aVb5_complex</text>
<text x="226" y="603.0">integrin_a6b4_complex</text>
<text x="226" y="612.2">NECTIN3</text>
<text x="226" y="621.5">JAM3</text>
<text x="226" y="630.8">LGR4</text>
<text x="226" y="640.0">LGR5</text>
<text x="226" y="649.3">IGF1R</text>
<text x="226" y="658.6">IGF1R_enhancerComGPC3</text>
<text x="226" y="667.9">EPHB4</text>
<text x="226" y="677.1">TGFBR3</text>
<text x="226" y="686.4">CDH1</text>
<text x="226" y="695.7">JAG1</text>
<text x="226" y="704.9">VSIR</text>
<text x="226" y="714.2">NOTCH2</text>
<text x="226" y="723.5">NOTCH3</text>
</g></g>
<rect x="233.0" y="574.2" width="11.5" height="150.3" fill="#fff" stroke="#777" stroke-width="0.65"/>
<rect x="251.4" y="574.2" width="11.3" height="150.3" fill="#fff" stroke="#777" stroke-width="0.65"/>
<path d="M230.8 579.7H233.0M230.8 589.0H233.0M230.8 598.2H233.0M230.8 607.5H233.0M230.8 616.8H233.0M230.8 626.1H233.0M230.8 635.3H233.0M230.8 644.6H233.0M230.8 653.9H233.0M230.8 663.1H233.0M230.8 672.4H233.0M230.8 681.7H233.0M230.8 690.9H233.0M230.8 700.2H233.0M230.8 709.5H233.0M230.8 718.8H233.0M238.7 724.5V727.1M257.0 724.5V727.1" stroke="#888" stroke-width="0.6" fill="none"/>
<circle cx="238.7" cy="579.7" r="3.85" fill="#ff2412"/>
<circle cx="238.7" cy="589.0" r="3.85" fill="#ff2412"/>
<circle cx="238.7" cy="598.2" r="3.85" fill="#ff2412"/>
<circle cx="238.7" cy="607.5" r="3.85" fill="#ff2412"/>
<circle cx="238.7" cy="616.8" r="3.85" fill="#ff2412"/>
<circle cx="238.7" cy="626.1" r="3.85" fill="#ff2412"/>
<circle cx="238.7" cy="635.3" r="3.85" fill="#ff2412"/>
<circle cx="238.7" cy="644.6" r="3.85" fill="#ff2412"/>
<circle cx="238.7" cy="653.9" r="3.85" fill="#ff2412"/>
<circle cx="238.7" cy="663.1" r="3.85" fill="#ff2412"/>
<circle cx="238.7" cy="672.4" r="3.85" fill="#ff2412"/>
<circle cx="238.7" cy="681.7" r="3.85" fill="#ff2412"/>
<circle cx="238.7" cy="690.9" r="3.85" fill="#ff2412"/>
<circle cx="238.7" cy="700.2" r="3.85" fill="#dbc858"/>
<circle cx="238.7" cy="709.5" r="3.85" fill="#dbc858"/>
<circle cx="238.7" cy="718.8" r="3.85" fill="#1010ff"/>
<circle cx="257.0" cy="579.7" r="3.85" fill="#1010ff"/>
<circle cx="257.0" cy="589.0" r="3.85" fill="#1010ff"/>
<circle cx="257.0" cy="598.2" r="3.85" fill="#1010ff"/>
<circle cx="257.0" cy="607.5" r="3.85" fill="#1010ff"/>
<circle cx="257.0" cy="616.8" r="3.85" fill="#1010ff"/>
<circle cx="257.0" cy="626.1" r="3.85" fill="#1010ff"/>
<circle cx="257.0" cy="635.3" r="3.85" fill="#1010ff"/>
<circle cx="257.0" cy="644.6" r="3.85" fill="#1010ff"/>
<circle cx="257.0" cy="653.9" r="3.85" fill="#1010ff"/>
<circle cx="257.0" cy="663.1" r="3.85" fill="#1010ff"/>
<circle cx="257.0" cy="672.4" r="3.85" fill="#1010ff"/>
<circle cx="257.0" cy="681.7" r="3.85" fill="#1010ff"/>
<circle cx="257.0" cy="690.9" r="0.6" fill="#b0b0b0"/>
<circle cx="257.0" cy="700.2" r="0.6" fill="#b0b0b0"/>
<circle cx="257.0" cy="709.5" r="0.6" fill="#b0b0b0"/>
<circle cx="257.0" cy="718.8" r="0.6" fill="#b0b0b0"/>
<g font-family='"Liberation Sans", Arial, sans-serif' font-size="6.5" fill="#333" text-anchor="end">
<text transform="translate(239.6 569.2) rotate(30)">sFGR_Larger</text>
<text transform="translate(258.2 569.2) rotate(30)">sFGR_Smaller</text>
</g>
<g font-family='"Liberation Sans", Arial, sans-serif' font-size="7.35" fill="#222">
<text x="265.4" y="582.3">-log10(PValue)</text>
<circle cx="286.4" cy="589.1" r="0.8" fill="#000"/>
<text x="292.2" y="591.7">0</text>
<circle cx="286.4" cy="598.9" r="1.95" fill="#000"/>
<text x="292.2" y="601.5">1</text>
<circle cx="286.4" cy="608.6" r="2.85" fill="#000"/>
<text x="292.2" y="611.2">2</text>
<circle cx="286.4" cy="618.0" r="3.85" fill="#000"/>
<text x="292.2" y="620.6">3</text>
<rect x="264.9" y="626.5" width="14.0" height="70.1" fill="url(#cg)"/>
<text x="281.1" y="633.1">1</text>
<text x="280.5" y="695.3">-1</text>
<text transform="translate(291.2 625.0) rotate(90)">mean(ligand, receptor)</text>
<rect x="264.9" y="701.1" width="9.3" height="4.7" fill="#e0244c"/>
<text x="276.0" y="706.1">Ligand</text>
<rect x="264.9" y="708.3" width="9.3" height="4.7" fill="#3874a8"/>
<text x="276.0" y="713.3">Receptor</text>
</g>
<g font-family='"Liberation Sans", Arial, sans-serif' font-size="7.8">
<text transform="translate(242.5 732.8) rotate(-90)" text-anchor="end"><tspan fill="#dc1e4b">Endothelia</tspan><tspan fill="#000" dx="1.4" dy="-1.0" font-size="6.32">|</tspan><tspan fill="#3b78ab" dx="1.4" dy="1.0">VCT_TP63</tspan></text>
<text transform="translate(260.8 732.8) rotate(-90)" text-anchor="end"><tspan fill="#dc1e4b">Endothelia</tspan><tspan fill="#000" dx="1.4" dy="-1.0" font-size="6.32">|</tspan><tspan fill="#3b78ab" dx="1.4" dy="1.0">VCT_TP63</tspan></text>
</g>
<g font-family='"Liberation Sans", Arial, sans-serif' font-size="7.1">
<g fill="#dc1e4b">
<text x="351.5" y="581.7">TGFB1</text>
<text x="351.5" y="590.1">ADGRE5</text>
<text x="351.5" y="598.5">integrin_aMb2_complex</text>
<text x="351.5" y="606.9">ADGRE5</text>
<text x="351.5" y="615.4">integrin_aLb2_complex</text>
<text x="351.5" y="623.8">SEMA4D</text>
<text x="351.5" y="632.2">TIGIT</text>
<text x="351.5" y="640.6">AREG</text>
<text x="351.5" y="649.1">FPR3</text>
<text x="351.5" y="657.5">CXCL2</text>
<text x="351.5" y="665.9">VEGFB</text>
<text x="351.5" y="674.3">CXCL10</text>
<text x="351.5" y="682.8">DHEAsulfate_bySULT2B</text>
<text x="351.5" y="691.2">VEGFA</text>
<text x="351.5" y="699.6">VEGFA</text>
<text x="351.5" y="708.0">CD94:NKG2A</text>
<text x="351.5" y="716.5">CD94:NKG2C</text>
<text x="351.5" y="724.9">KLRC1</text>
<text x="351.5" y="733.3">KLRC2</text>
</g>
<g fill="#3b78ab" text-anchor="end">
<text x="509.3" y="581.7">TGFbeta_receptor1</text>
<text x="509.3" y="590.1">CD55</text>
<text x="509.3" y="598.5">JAM3</text>
<text x="509.3" y="606.9">integrin_aVb1_complex</text>
<text x="509.3" y="615.4">F11R</text>
<text x="509.3" y="623.8">PLXNB1</text>
<text x="509.3" y="632.2">NECTIN3</text>
<text x="509.3" y="640.6">EGFR</text>
<text x="509.3" y="649.1">HEBP1</text>
<text x="509.3" y="657.5">DPP4</text>
<text x="509.3" y="665.9">FLT1</text>
<text x="509.3" y="674.3">DPP4</text>
<text x="509.3" y="682.8">PPARG</text>
<text x="509.3" y="691.2">NRP2</text>
<text x="509.3" y="699.6">FLT1</text>
<text x="509.3" y="708.0">HLA-E</text>
<text x="509.3" y="716.5">HLA-E</text>
<text x="509.3" y="724.9">HLA-E</text>
<text x="509.3" y="733.3">HLA-E</text>
</g></g>
<rect x="516.1" y="572.4" width="26.9" height="161.0" fill="#fff" stroke="#777" stroke-width="0.65"/>
<rect x="549.5" y="572.4" width="27.3" height="161.0" fill="#fff" stroke="#777" stroke-width="0.65"/>
<path d="M513.9 577.1H516.1M513.9 585.5H516.1M513.9 594.0H516.1M513.9 602.4H516.1M513.9 610.8H516.1M513.9 619.2H516.1M513.9 627.6H516.1M513.9 636.1H516.1M513.9 644.5H516.1M513.9 652.9H516.1M513.9 661.4H516.1M513.9 669.8H516.1M513.9 678.2H516.1M513.9 686.6H516.1M513.9 695.1H516.1M513.9 703.5H516.1M513.9 711.9H516.1M513.9 720.3H516.1M513.9 728.8H516.1M521.0 733.4V736.0M529.5 733.4V736.0M537.9 733.4V736.0M554.6 733.4V736.0M563.1 733.4V736.0M571.5 733.4V736.0" stroke="#888" stroke-width="0.6" fill="none"/>
<circle cx="521.0" cy="577.1" r="3.55" fill="#6a78fa"/>
<circle cx="521.0" cy="585.5" r="3.55" fill="#1010ff"/>
<circle cx="521.0" cy="594.0" r="3.55" fill="#d9c860"/>
<circle cx="521.0" cy="602.4" r="0.6" fill="#b0b0b0"/>
<circle cx="521.0" cy="610.8" r="3.55" fill="#6a78fa"/>
<circle cx="521.0" cy="619.2" r="0.6" fill="#b0b0b0"/>
<circle cx="521.0" cy="627.6" r="0.6" fill="#b0b0b0"/>
<circle cx="521.0" cy="636.1" r="0.6" fill="#b0b0b0"/>
<circle cx="521.0" cy="644.5" r="3.55" fill="#f26a1e"/>
<circle cx="521.0" cy="652.9" r="0.6" fill="#b0b0b0"/>
<circle cx="521.0" cy="661.4" r="0.6" fill="#b0b0b0"/>
<circle cx="521.0" cy="669.8" r="0.6" fill="#b0b0b0"/>
<circle cx="521.0" cy="678.2" r="0.6" fill="#b0b0b0"/>
<circle cx="521.0" cy="686.6" r="0.6" fill="#b0b0b0"/>
<circle cx="521.0" cy="695.1" r="0.6" fill="#b0b0b0"/>
<circle cx="521.0" cy="703.5" r="0.6" fill="#b0b0b0"/>
<circle cx="521.0" cy="711.9" r="0.6" fill="#b0b0b0"/>
<circle cx="521.0" cy="720.3" r="0.6" fill="#b0b0b0"/>
<circle cx="521.0" cy="728.8" r="0.6" fill="#b0b0b0"/>
<circle cx="529.5" cy="577.1" r="3.55" fill="#ff2412"/>
<circle cx="529.5" cy="585.5" r="3.55" fill="#ff2412"/>
<circle cx="529.5" cy="594.0" r="3.55" fill="#ff2412"/>
<circle cx="529.5" cy="602.4" r="3.55" fill="#ff2412"/>
<circle cx="529.5" cy="610.8" r="3.55" fill="#eaa527"/>
<circle cx="529.5" cy="619.2" r="3.55" fill="#9db3f2"/>
<circle cx="529.5" cy="627.6" r="0.6" fill="#b0b0b0"/>
<circle cx="529.5" cy="636.1" r="0.6" fill="#b0b0b0"/>
<circle cx="529.5" cy="644.5" r="3.55" fill="#9db3f2"/>
<circle cx="529.5" cy="652.9" r="0.6" fill="#b0b0b0"/>
<circle cx="529.5" cy="661.4" r="0.6" fill="#b0b0b0"/>
<circle cx="529.5" cy="669.8" r="0.6" fill="#b0b0b0"/>
<circle cx="529.5" cy="678.2" r="0.6" fill="#b0b0b0"/>
<circle cx="529.5" cy="686.6" r="0.6" fill="#b0b0b0"/>
<circle cx="529.5" cy="695.1" r="0.6" fill="#b0b0b0"/>
<circle cx="529.5" cy="703.5" r="0.6" fill="#b0b0b0"/>
<circle cx="529.5" cy="711.9" r="0.6" fill="#b0b0b0"/>
<circle cx="529.5" cy="720.3" r="0.6" fill="#b0b0b0"/>
<circle cx="529.5" cy="728.8" r="0.6" fill="#b0b0b0"/>
<circle cx="537.9" cy="577.1" r="3.55" fill="#eaa527"/>
<circle cx="537.9" cy="585.5" r="3.55" fill="#d9c860"/>
<circle cx="537.9" cy="594.0" r="3.55" fill="#9db3f2"/>
<circle cx="537.9" cy="602.4" r="3.55" fill="#9db3f2"/>
<circle cx="537.9" cy="610.8" r="3.55" fill="#ff2412"/>
<circle cx="537.9" cy="619.2" r="3.55" fill="#ff2412"/>
<circle cx="537.9" cy="627.6" r="3.55" fill="#e2c22e"/>
<circle cx="537.9" cy="636.1" r="0.6" fill="#b0b0b0"/>
<circle cx="537.9" cy="644.5" r="0.6" fill="#b0b0b0"/>
<circle cx="537.9" cy="652.9" r="0.6" fill="#b0b0b0"/>
<circle cx="537.9" cy="661.4" r="0.6" fill="#b0b0b0"/>
<circle cx="537.9" cy="669.8" r="0.6" fill="#b0b0b0"/>
<circle cx="537.9" cy="678.2" r="0.6" fill="#b0b0b0"/>
<circle cx="537.9" cy="686.6" r="0.6" fill="#b0b0b0"/>
<circle cx="537.9" cy="695.1" r="0.6" fill="#b0b0b0"/>
<circle cx="537.9" cy="703.5" r="3.55" fill="#9db3f2"/>
<circle cx="537.9" cy="711.9" r="3.55" fill="#9db3f2"/>
<circle cx="537.9" cy="720.3" r="3.55" fill="#9db3f2"/>
<circle cx="537.9" cy="728.8" r="3.55" fill="#9db3f2"/>
<circle cx="554.6" cy="577.1" r="0.6" fill="#b0b0b0"/>
<circle cx="554.6" cy="585.5" r="0.6" fill="#b0b0b0"/>
<circle cx="554.6" cy="594.0" r="0.6" fill="#b0b0b0"/>
<circle cx="554.6" cy="602.4" r="0.6" fill="#b0b0b0"/>
<circle cx="554.6" cy="610.8" r="0.6" fill="#b0b0b0"/>
<circle cx="554.6" cy="619.2" r="0.6" fill="#b0b0b0"/>
<circle cx="554.6" cy="627.6" r="0.6" fill="#b0b0b0"/>
<circle cx="554.6" cy="636.1" r="0.6" fill="#b0b0b0"/>
<circle cx="554.6" cy="644.5" r="3.55" fill="#ff2412"/>
<circle cx="554.6" cy="652.9" r="3.55" fill="#ff2412"/>
<circle cx="554.6" cy="661.4" r="3.55" fill="#e2c22e"/>
<circle cx="554.6" cy="669.8" r="3.55" fill="#9db3f2"/>
<circle cx="554.6" cy="678.2" r="3.55" fill="#9db3f2"/>
<circle cx="554.6" cy="686.6" r="3.55" fill="#9db3f2"/>
<circle cx="554.6" cy="695.1" r="3.55" fill="#9db3f2"/>
<circle cx="554.6" cy="703.5" r="0.6" fill="#b0b0b0"/>
<circle cx="554.6" cy="711.9" r="0.6" fill="#b0b0b0"/>
<circle cx="554.6" cy="720.3" r="0.6" fill="#b0b0b0"/>
<circle cx="554.6" cy="728.8" r="0.6" fill="#b0b0b0"/>
<circle cx="563.1" cy="577.1" r="0.6" fill="#b0b0b0"/>
<circle cx="563.1" cy="585.5" r="3.55" fill="#f26a1e"/>
<circle cx="563.1" cy="594.0" r="0.6" fill="#b0b0b0"/>
<circle cx="563.1" cy="602.4" r="0.6" fill="#b0b0b0"/>
<circle cx="563.1" cy="610.8" r="0.6" fill="#b0b0b0"/>
<circle cx="563.1" cy="619.2" r="0.6" fill="#b0b0b0"/>
<circle cx="563.1" cy="627.6" r="0.6" fill="#b0b0b0"/>
<circle cx="563.1" cy="636.1" r="0.6" fill="#b0b0b0"/>
<circle cx="563.1" cy="644.5" r="3.55" fill="#9db3f2"/>
<circle cx="563.1" cy="652.9" r="3.55" fill="#9db3f2"/>
<circle cx="563.1" cy="661.4" r="0.6" fill="#b0b0b0"/>
<circle cx="563.1" cy="669.8" r="3.55" fill="#ff2412"/>
<circle cx="563.1" cy="678.2" r="3.55" fill="#ff2412"/>
<circle cx="563.1" cy="686.6" r="3.55" fill="#ff2412"/>
<circle cx="563.1" cy="695.1" r="3.55" fill="#ff2412"/>
<circle cx="563.1" cy="703.5" r="0.6" fill="#b0b0b0"/>
<circle cx="563.1" cy="711.9" r="0.6" fill="#b0b0b0"/>
<circle cx="563.1" cy="720.3" r="0.6" fill="#b0b0b0"/>
<circle cx="563.1" cy="728.8" r="0.6" fill="#b0b0b0"/>
<circle cx="571.5" cy="577.1" r="0.6" fill="#b0b0b0"/>
<circle cx="571.5" cy="585.5" r="3.55" fill="#eaa527"/>
<circle cx="571.5" cy="594.0" r="0.6" fill="#b0b0b0"/>
<circle cx="571.5" cy="602.4" r="0.6" fill="#b0b0b0"/>
<circle cx="571.5" cy="610.8" r="0.6" fill="#b0b0b0"/>
<circle cx="571.5" cy="619.2" r="0.6" fill="#b0b0b0"/>
<circle cx="571.5" cy="627.6" r="0.6" fill="#b0b0b0"/>
<circle cx="571.5" cy="636.1" r="3.55" fill="#9db3f2"/>
<circle cx="571.5" cy="644.5" r="0.6" fill="#b0b0b0"/>
<circle cx="571.5" cy="652.9" r="0.6" fill="#b0b0b0"/>
<circle cx="571.5" cy="661.4" r="0.6" fill="#b0b0b0"/>
<circle cx="571.5" cy="669.8" r="0.6" fill="#b0b0b0"/>
<circle cx="571.5" cy="678.2" r="0.6" fill="#b0b0b0"/>
<circle cx="571.5" cy="686.6" r="0.6" fill="#b0b0b0"/>
<circle cx="571.5" cy="695.1" r="0.6" fill="#b0b0b0"/>
<circle cx="571.5" cy="703.5" r="3.55" fill="#ff2412"/>
<circle cx="571.5" cy="711.9" r="3.55" fill="#ff2412"/>
<circle cx="571.5" cy="720.3" r="3.55" fill="#ff2412"/>
<circle cx="571.5" cy="728.8" r="3.55" fill="#ff2412"/>
<g font-family='"Liberation Sans", Arial, sans-serif' font-size="5.9" fill="#333" text-anchor="end">
<text transform="translate(530.2 567.4) rotate(30)">sFGR_Larger</text>
<text transform="translate(563.2 567.4) rotate(30)">sFGR_Smaller</text>
</g>
<g font-family='"Liberation Sans", Arial, sans-serif' font-size="6.7" fill="#222">
<text x="579.0" y="579.1">-log10(PValue)</text>
<circle cx="598.1" cy="585.4" r="0.8" fill="#000"/>
<text x="603.2" y="587.8">0</text>
<circle cx="598.1" cy="594.4" r="1.7" fill="#000"/>
<text x="603.2" y="596.8">1</text>
<circle cx="598.1" cy="603.3" r="2.45" fill="#000"/>
<text x="603.2" y="605.7">2</text>
<circle cx="598.1" cy="612.0" r="3.2" fill="#000"/>
<text x="603.2" y="614.4">3</text>
<rect x="578.6" y="619.6" width="12.9" height="63.5" fill="url(#cg)"/>
<text x="593.7" y="625.9">1.3</text>
<text x="593.1" y="682.1">-1.9</text>
<text transform="translate(608.0 618.1) rotate(90)">mean(ligand, receptor)</text>
<rect x="578.6" y="687.2" width="8.6" height="4.3" fill="#e0244c"/>
<text x="589.0" y="691.8">Ligand</text>
<rect x="578.6" y="693.8" width="8.6" height="4.3" fill="#3874a8"/>
<text x="589.0" y="698.3">Receptor</text>
</g>
<g font-family='"Liberation Sans", Arial, sans-serif' font-size="7.1">
<text transform="translate(532.7 777.7) rotate(-90)" text-anchor="start" fill="#3b78ab">VCT_LDHA</text>
<path d="M518.2 780H540.7" stroke="#7d7d7d" stroke-width="1.3" fill="none"/>
<text transform="translate(523.6 783.0) rotate(-90)" text-anchor="end" fill="#dc1e4b">Hofbauer</text>
<text transform="translate(532.1 783.0) rotate(-90)" text-anchor="end" fill="#dc1e4b">Monocyte</text>
<text transform="translate(540.5 783.0) rotate(-90)" text-anchor="end" fill="#dc1e4b">NK</text>
<text transform="translate(566.3 777.7) rotate(-90)" text-anchor="start" fill="#3b78ab">VCT_LDHA</text>
<path d="M551.8 780H574.3" stroke="#7d7d7d" stroke-width="1.3" fill="none"/>
<text transform="translate(557.2 783.0) rotate(-90)" text-anchor="end" fill="#dc1e4b">Hofbauer</text>
<text transform="translate(565.7 783.0) rotate(-90)" text-anchor="end" fill="#dc1e4b">Monocyte</text>
<text transform="translate(574.1 783.0) rotate(-90)" text-anchor="end" fill="#dc1e4b">NK</text>
</g>
</svg></body></html>
